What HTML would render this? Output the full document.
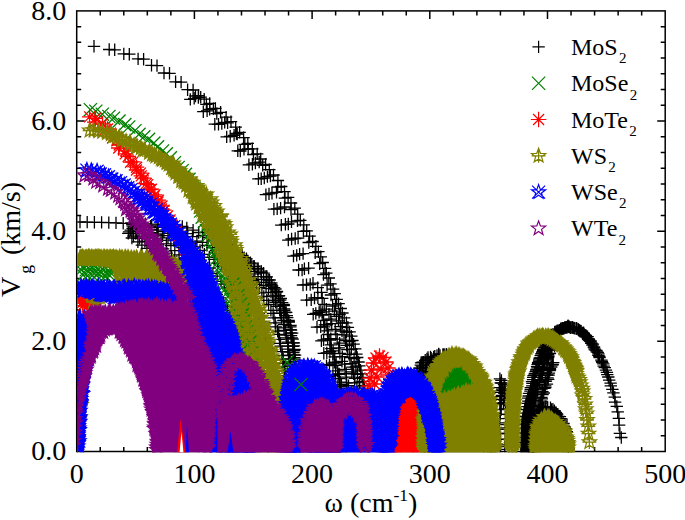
<!DOCTYPE html>
<html><head><meta charset="utf-8"><title>Vg</title>
<style>html,body{margin:0;padding:0;background:#fff}svg{display:block}text{font-family:"Liberation Serif",serif;fill:#000}</style></head><body>
<svg width="685" height="520" viewBox="0 0 685 520">
<rect width="685" height="520" fill="#fff"/>
<defs>
<marker id="mk" markerUnits="userSpaceOnUse" markerWidth="20" markerHeight="20" viewBox="-10 -10 20 20" refX="0" refY="0" overflow="visible"><g fill="none" stroke="#000000" stroke-width="1.3"><path d="M-6.2,0H6.2 M0,-6.2V6.2"/></g></marker>
<g id="sk" fill="none" stroke="#000000" stroke-width="1.2"><path d="M-6.2,0H6.2 M0,-6.2V6.2"/></g>
<marker id="mg" markerUnits="userSpaceOnUse" markerWidth="20" markerHeight="20" viewBox="-10 -10 20 20" refX="0" refY="0" overflow="visible"><g fill="none" stroke="#008000" stroke-width="1.3"><path d="M-6.6,-6.6 L6.6,6.6 M-6.6,6.6 L6.6,-6.6"/></g></marker>
<g id="sg" fill="none" stroke="#008000" stroke-width="1.2"><path d="M-6.6,-6.6 L6.6,6.6 M-6.6,6.6 L6.6,-6.6"/></g>
<marker id="mr" markerUnits="userSpaceOnUse" markerWidth="20" markerHeight="20" viewBox="-10 -10 20 20" refX="0" refY="0" overflow="visible"><g fill="none" stroke="#ff0000" stroke-width="1.3"><path d="M-7.7,0H7.7 M0,-7.7V7.7 M-5.5,-5.5 L5.5,5.5 M-5.5,5.5 L5.5,-5.5"/></g></marker>
<g id="sr" fill="none" stroke="#ff0000" stroke-width="1.2"><path d="M-7.7,0H7.7 M0,-7.7V7.7 M-5.5,-5.5 L5.5,5.5 M-5.5,5.5 L5.5,-5.5"/></g>
<marker id="mo" markerUnits="userSpaceOnUse" markerWidth="20" markerHeight="20" viewBox="-10 -10 20 20" refX="0" refY="0" overflow="visible"><g fill="none" stroke="#808000" stroke-width="1.3"><path d="M0.00,-7.50 L1.82,-2.51 L7.13,-2.32 L2.95,0.96 L4.41,6.07 L0.00,3.10 L-4.41,6.07 L-2.95,0.96 L-7.13,-2.32 L-1.82,-2.51Z M-7,0H7 M0,-7V7"/></g></marker>
<g id="so" fill="none" stroke="#808000" stroke-width="1.2"><path d="M0.00,-7.50 L1.82,-2.51 L7.13,-2.32 L2.95,0.96 L4.41,6.07 L0.00,3.10 L-4.41,6.07 L-2.95,0.96 L-7.13,-2.32 L-1.82,-2.51Z M-7,0H7 M0,-7V7"/></g>
<marker id="mb" markerUnits="userSpaceOnUse" markerWidth="20" markerHeight="20" viewBox="-10 -10 20 20" refX="0" refY="0" overflow="visible"><g fill="none" stroke="#0000ff" stroke-width="1.3"><path d="M0.00,-7.50 L1.82,-2.51 L7.13,-2.32 L2.95,0.96 L4.41,6.07 L0.00,3.10 L-4.41,6.07 L-2.95,0.96 L-7.13,-2.32 L-1.82,-2.51Z M-6.5,-6.5 L6.5,6.5 M-6.5,6.5 L6.5,-6.5"/></g></marker>
<g id="sb" fill="none" stroke="#0000ff" stroke-width="1.2"><path d="M0.00,-7.50 L1.82,-2.51 L7.13,-2.32 L2.95,0.96 L4.41,6.07 L0.00,3.10 L-4.41,6.07 L-2.95,0.96 L-7.13,-2.32 L-1.82,-2.51Z M-6.5,-6.5 L6.5,6.5 M-6.5,6.5 L6.5,-6.5"/></g>
<marker id="mp" markerUnits="userSpaceOnUse" markerWidth="20" markerHeight="20" viewBox="-10 -10 20 20" refX="0" refY="0" overflow="visible"><g fill="none" stroke="#800080" stroke-width="1.3"><path d="M0.00,-7.50 L1.82,-2.51 L7.13,-2.32 L2.95,0.96 L4.41,6.07 L0.00,3.10 L-4.41,6.07 L-2.95,0.96 L-7.13,-2.32 L-1.82,-2.51Z"/></g></marker>
<g id="sp" fill="none" stroke="#800080" stroke-width="1.2"><path d="M0.00,-7.50 L1.82,-2.51 L7.13,-2.32 L2.95,0.96 L4.41,6.07 L0.00,3.10 L-4.41,6.07 L-2.95,0.96 L-7.13,-2.32 L-1.82,-2.51Z"/></g>
<clipPath id="cp"><rect x="77.3" y="10.4" width="588.5" height="441.9"/></clipPath>
</defs>
<g stroke="#000" stroke-width="1.5" fill="none">
<rect x="76.7" y="10.9" width="588.5" height="440.6"/>
</g>
<path d="M100.24,451.50v-4.5 M100.24,10.90v4.5 M123.78,451.50v-4.5 M123.78,10.90v4.5 M147.32,451.50v-4.5 M147.32,10.90v4.5 M170.86,451.50v-4.5 M170.86,10.90v4.5 M194.40,451.50v-8 M194.40,10.90v8 M217.94,451.50v-4.5 M217.94,10.90v4.5 M241.48,451.50v-4.5 M241.48,10.90v4.5 M265.02,451.50v-4.5 M265.02,10.90v4.5 M288.56,451.50v-4.5 M288.56,10.90v4.5 M312.10,451.50v-8 M312.10,10.90v8 M335.64,451.50v-4.5 M335.64,10.90v4.5 M359.18,451.50v-4.5 M359.18,10.90v4.5 M382.72,451.50v-4.5 M382.72,10.90v4.5 M406.26,451.50v-4.5 M406.26,10.90v4.5 M429.80,451.50v-8 M429.80,10.90v8 M453.34,451.50v-4.5 M453.34,10.90v4.5 M476.88,451.50v-4.5 M476.88,10.90v4.5 M500.42,451.50v-4.5 M500.42,10.90v4.5 M523.96,451.50v-4.5 M523.96,10.90v4.5 M547.50,451.50v-8 M547.50,10.90v8 M571.04,451.50v-4.5 M571.04,10.90v4.5 M594.58,451.50v-4.5 M594.58,10.90v4.5 M618.12,451.50v-4.5 M618.12,10.90v4.5 M641.66,451.50v-4.5 M641.66,10.90v4.5 M76.70,435.76h4.5 M665.20,435.76h-4.5 M76.70,420.03h4.5 M665.20,420.03h-4.5 M76.70,404.29h4.5 M665.20,404.29h-4.5 M76.70,388.56h4.5 M665.20,388.56h-4.5 M76.70,372.82h4.5 M665.20,372.82h-4.5 M76.70,357.09h4.5 M665.20,357.09h-4.5 M76.70,341.35h8 M665.20,341.35h-8 M76.70,325.61h4.5 M665.20,325.61h-4.5 M76.70,309.88h4.5 M665.20,309.88h-4.5 M76.70,294.14h4.5 M665.20,294.14h-4.5 M76.70,278.41h4.5 M665.20,278.41h-4.5 M76.70,262.67h4.5 M665.20,262.67h-4.5 M76.70,246.94h4.5 M665.20,246.94h-4.5 M76.70,231.20h8 M665.20,231.20h-8 M76.70,215.46h4.5 M665.20,215.46h-4.5 M76.70,199.73h4.5 M665.20,199.73h-4.5 M76.70,183.99h4.5 M665.20,183.99h-4.5 M76.70,168.26h4.5 M665.20,168.26h-4.5 M76.70,152.52h4.5 M665.20,152.52h-4.5 M76.70,136.79h4.5 M665.20,136.79h-4.5 M76.70,121.05h8 M665.20,121.05h-8 M76.70,105.31h4.5 M665.20,105.31h-4.5 M76.70,89.58h4.5 M665.20,89.58h-4.5 M76.70,73.84h4.5 M665.20,73.84h-4.5 M76.70,58.11h4.5 M665.20,58.11h-4.5 M76.70,42.37h4.5 M665.20,42.37h-4.5 M76.70,26.64h4.5 M665.20,26.64h-4.5" stroke="#000" stroke-width="1.5" fill="none"/>
<g clip-path="url(#cp)">
<path d="M521.0,453.5 522.0,420.0 526.0,400.0 531.0,386.0 537.0,386.0 535.0,400.0 533.0,420.0 534.0,453.5Z" fill="#000000" stroke="#000000" stroke-width="2" stroke-linejoin="round"/>
<path d="M94,46.3 109.2,49.5 123.8,53.9 138.1,58.9 151.5,65.3 164,73 175.6,81.8 187.6,89.7 114.7,49.8 129.3,54.2 143.6,59.2 157,65.6 169.5,73.3 181.1,82.1 193.1,90 198.5,95.6 204.2,99.2 209.7,103.4 215.4,108.4 220.6,112.3 226.1,117.2 231,121.6 235.7,127.2 239.6,132.3 243.6,137.6 247.8,143.4 252.3,148.8 257.2,153.9 260.7,159 265.6,164.5 269.3,169.7 273.5,175 277.9,180.5 281.2,186.5 284.5,191.7 288.1,197.4 291,203 294.8,208.1 297.7,214.2 300.3,220.3 303.8,224.8 306.7,230.8 309.6,236.2 312.6,241.5 315.9,246.3 318.4,251.7 320.8,256.8 322.7,262.5 325.1,268.3 326.3,273.1 328.8,278 330.5,283.8 333.1,289.1 334.7,293.7 336.7,299.3 338.6,303.6 340.7,308.5 342.4,313 344.2,317.9 346.4,322.8 347.9,327.3 349.6,331.9 351.3,336.2 352.4,340.5 353.6,344.2 355.2,348.9 356.4,354.1 357.2,357.5 358.5,362 359.3,365.8 360.5,370.1 360.9,373.9 362.1,377.4 363,381.3 364,385.4 364.4,388.8 364.9,392.1 365.1,396.3 365.2,400 365.7,403.4 366.3,406.8 366.9,409.5 367.5,413.6 367.3,416.3 367.4,419.2 368,422.4 367.8,425.3 367.7,428.1 368.4,431.3 368.4,434.2 368,436.8 368.2,439.6 368.3,442.2 368,444.6 369,447.1 368.2,449.9 195.5,96 206.4,104.4 216.8,113.6 227.6,122.8 236.4,133.5 244.8,144.3 253.4,154.5 262.7,165.3 270.4,176.1 277.7,187 284.9,198.2 291,209.5 297.5,220.8 303.4,231.3 308.8,242.5 315.2,252.7 319.7,263.7 323.5,274.6 327.1,285.1 331,295 335.5,304.8 339.6,314.6 342.3,323 346.5,332.2 349.4,341.6 351.4,349.4 354.1,358.6 355.9,366.8 357.5,374.3 359.5,382.2 190.3,99.4 203.3,111.7 214.8,124.2 226.7,136.9 237.8,150.8 248.9,164.8 258.4,178.9 265.9,194.7 273.9,209.1 281.3,225.1 288.3,240.1 293.5,256.1 298.6,270 303,285 306.7,300.1 313.2,314.3 317,327.2 321.4,340.8 323.8,353.3 326.5,365.6 329.2,376.7 330.5,387.5 331.9,397.8 332.7,406.7 334.1,414.9 335.4,424.1 335.1,431.2 335.9,436.6 336.3,443.8 336.5,449 194.2,98.3 207.1,110.9 218.5,124.3 230.2,136.3 240.3,151 252.4,164.2 261.2,178.7 269,193.9 277.2,208.9 285.4,224.3 291.6,239 296.7,255.4 302.1,270.1 306.5,284.6 311.2,299.9 315.8,313.4 320.7,326.8 323.6,339.8 326.8,352.9 329.5,364.7 332.9,375.7 334,386.6 335.5,396.2 336.7,406.8 337.3,414.6 337.6,422.9 338.1,429.7 339.6,436.5 339.9,443.7 339.9,448.9 198.4,97.5 209.7,109.4 221.8,123.5 234.1,135.3 244,149.3 255.4,163 264.3,178 272,193.2 280.6,208.1 288.3,224 295.2,238.5 299.6,254.1 304.4,268.7 310.2,284.5 314.5,298 319.1,312.4 324.3,326.9 327.7,338.8 329.9,351.7 333,363.2 335.6,374.5 337.9,386.1 339.3,395.6 340.1,405.1 340.5,413.7 340.8,421.3 342.2,429.2 342.5,436.5 342.1,442 343.1,448 200.7,97.2 213.4,108.7 224.7,122.4 237.2,134.1 248.2,149 259.2,162.1 267.4,176.6 276.5,192.3 284.5,207 291.5,221.8 298.1,238.1 303.1,253.6 308.6,268.1 313,283.2 317.9,297.7 322.2,311.8 326.9,324.7 330.8,338.7 333.1,350.9 336.1,362.5 339.2,374 341.4,384.6 342.3,394.9 342.9,404.6 343.9,413.3 344.6,420.7 345.2,428.5 346.1,434.9 346,440.8 346.6,446.6 317.7,287.7 321.5,292.4 322.2,298.4 324.2,304.5 326.3,309.1 329,314.3 330.8,319.2 331.7,323.6 335.2,329.4 335.9,334.4 337.2,339.1 339.6,343.2 338.7,347.8 339.9,353.3 342.3,356.7 342,361.4 344.6,364.2 345,369.4 346.2,373.5 346.3,377.2 346.7,382.8 348.5,385.6 348.1,388.5 348.9,393.3 349.6,396.9 349.4,400.5 350.4,404.8 351.9,407.4 350.6,410.8 351,413.7 351.5,416.7 352.2,420.4 352.1,423.4 351.7,426 352.2,429.2 352.7,432.4 351.9,435.3 352,437.7 352.8,439.5 353.1,443.5 332.6,306.2 334.4,311.1 336.4,316.4 338.5,320.9 340.4,326.6 342,331 344,334.9 345.4,340.7 346.6,345.4 347.3,349.6 349.2,354.4 350,357.7 351.2,363.6 352.5,367.2 351.9,371.8 353.6,373.8 354.8,378.4 354.6,382.8 356.9,386.8 356.9,391.9 358.2,394.5 357.6,397.5 357.7,402.1 358.7,405.4 359.4,408.4 359.1,412.7 359.7,416.2 359.8,418.7 360,421.5 358.9,425.5 360.1,428.5 359.2,431.1 360,433.8 359.2,437 361.2,440.3 360.4,442.8 361.2,443.9 360.8,448.6 320.1,310.6 322.2,315 323.6,320.3 324.9,324.8 327.4,330.9 328.3,334.5 329.8,340.2 330.9,344.9 331.4,348.6 333,353.7 334.7,356.8 334.6,362.3 335.7,365.4 337.7,370.9 338.2,374.4 339.4,378.6 340.2,382.2 339.7,386.7 340.4,390.9 341.5,393.7 341.8,397.7 342.7,401.2 342.3,405.8 344.3,409.8 343.3,412.2 344.4,415.3 343.2,418.8 344.3,421.4 343.3,424.2 344.9,427.7 344.6,431.3 345.2,434 345.3,436.6 345,439.3 346,442.7 345,445.3 345.4,448.6 80,222 87.2,222.1 94.4,222.3 101.6,222.4 108.8,222.6 116,222.9 123.2,223.3 131.2,223.2 138.3,225 145.4,223.8 151.6,225.1 157.5,224.1 164.4,224.9 170.3,224.8 177,226.4 182.3,226.5 186.8,227.9 193.1,230.2 198.7,232.5 202.7,235.5 208.4,237.5 213.6,239.8 217.8,243 224,245.5 229.6,247.6 232.4,249.9 237.2,253 242.2,255.3 246.5,258.8 250.4,262.8 254.1,266.1 258,269 261.4,272.4 266.7,276.8 269.6,280 271.3,284.4 274.1,287.7 276.4,292 278.5,296 280.2,300.1 283.7,304.5 284.2,309 286.2,312.4 287.2,317.7 288.7,321.5 290.5,325.3 290.6,329.6 292.1,333.1 291.7,338 293,342.8 293.9,345.8 294.1,350.5 294,354.9 294.3,357.6 295.1,361.8 295.3,366.7 296.2,371.2 296.3,373.4 296.4,377.5 296.5,382 297.1,384.5 298.1,389.1 298.2,392.8 298.6,396.4 299.1,400.1 298.9,403.7 298.1,406.9 298.9,410.5 298.5,414.6 299.3,416.6 298.5,420.4 299.5,423.5 299.6,426.8 300,430 299.8,434.1 301.1,436.3 299.7,439.5 300.4,442.4 299.7,446.1 299.5,448.7 132,223.2 137.9,224.9 145.1,225.8 150.5,226.3 158,227.4 163.7,227.4 170.2,228.5 175.2,229.4 182.3,231.5 187.5,233.7 192.5,236.6 196.9,241.1 202.5,242.3 207,245.4 212.6,247.7 215.9,250.7 221.4,253.8 226.6,256.9 230.6,259.4 234.8,264.3 238.7,266.9 242.2,271.2 245.5,273.6 250,277.3 253.2,280.6 256.5,284.3 259.4,287.7 261.9,292.8 263.8,296.5 266.8,300.3 268.6,304.5 270.9,310.4 273.1,313.4 274,317.8 275.2,322.8 275.8,326.8 277.6,331.2 278.7,334.4 279.5,339.3 280.2,343.3 280.6,346.2 281.9,351.7 282.2,355.4 283.2,359.2 282.9,363.3 284.3,366.6 284.8,370.9 284.1,375.7 285.1,378.2 285.3,383.1 286.5,386.2 286.5,390.4 286.3,393.9 287,397.1 287,400.9 287.6,404.1 287.6,408.5 288.1,411.8 288.8,415.1 289.5,417.8 288.9,421.4 289.6,425.7 287.8,427.7 289.3,431.8 289.4,434.6 289.4,438.1 289.2,441.4 288.2,444.3 288.9,447.5 132.3,224.7 138.8,226.5 144.5,227.4 151.1,229.5 157.8,230.2 163.9,231.6 169.2,233.4 175.6,234.7 180.2,237.5 185.3,240.4 190.6,243.9 195.2,246.8 200,250.4 204.4,254.3 209.3,257.3 214.1,259.3 217.7,263.2 222.1,266.4 225.8,269.1 229.6,272.6 233.5,277 236.7,280.8 240.8,283.7 243.1,287.7 245.9,291.7 250.2,295.9 252.1,300 254.1,304.7 256,309.4 258.8,313.5 259.7,317.2 261.6,321.8 263.2,326.2 265,329.4 265.2,335.1 266.2,338.5 267.2,342.4 268.2,348.5 269.5,350.8 269.2,355.3 270.9,359.1 270.7,364 272.1,367.3 271.7,370.6 272.4,374.2 273.7,378.8 274,383.9 274.9,386.1 275.2,391 274.8,393.6 275.6,396.9 276.7,400.1 275.8,404.7 276.5,408.4 277.1,411.7 277.7,414.2 277.4,418.3 277.7,422.1 277.4,425 278.4,428.8 277.8,432.9 279.5,434.3 278.6,439.5 279,441.5 278.6,444.2 278.7,447.3 132.7,226.2 138,228.5 144.4,230.3 150.5,232.7 156.8,234 162.6,235.7 168,237.8 173.8,240.2 178.9,244.2 182.5,247.6 187.1,251.4 191.7,255.3 196.2,257 200.6,260.6 205.2,265.6 209.7,268 212.9,273.3 217.1,276.2 221,281.3 224.6,284 227.6,288 230.5,291 233.9,295 236.5,299.7 240,303.5 241,308.1 243.4,313 244.9,316.4 246.1,320.6 248.8,325.4 249.6,329.4 251.6,334.1 252.6,338 253.1,341.7 255.9,345.4 255.8,350.8 256.7,354.4 257.7,358.9 258.5,362 259.2,366.5 259.7,371 260.9,375.2 261,379.1 262.5,383 263.2,386.2 262.9,390.4 262.9,393.8 263.8,397.2 263.7,400.5 265,405 265.9,408 265.6,411.1 266.3,414.9 266.6,419.3 266.6,421 266.5,424.4 266.5,429.1 267.5,430.9 267.9,435.5 267.6,437.7 267.8,441.3 268.4,444.9 268.8,448 132.6,228.3 136.6,231.4 143.5,233.3 149.8,235.2 154.8,238.2 161.1,240.3 166.4,243.8 170.9,245.6 174.8,250.6 179,254.8 184.4,258.3 187.5,263.3 192,265.4 196.3,270.1 199.7,274.1 203.6,277.2 207.4,282.1 210.3,285.9 213.8,291.3 216.8,294.5 220.2,297.8 223.4,302.4 226.1,306.4 227.5,310.3 230.1,315.2 232.6,319.4 234.3,324.3 235.6,327.1 236.5,331.4 239.4,335.9 240.7,340.9 242.2,345.3 242.5,348.9 243.6,353.2 244.3,357.3 246.3,360.5 246.6,364.9 247.4,369.8 248.1,373.7 248.1,377.8 249.3,381.4 250.4,383.6 250.6,388.8 252.4,392.5 252.4,395.4 253.6,400.6 253.4,403.2 253.1,407.3 255.7,410.8 255.4,414.1 254.7,418 254.9,420.6 256,424.5 256.4,427.6 256.1,430 256.7,433.5 256.3,436.5 256.9,439.3 256.7,442.5 257.6,446.6 258.7,448.7 130.7,230.1 135.8,233.6 142.6,236.1 147,237.9 153.3,241.6 157.4,244.4 163.1,248.9 166.8,253.1 171.4,256.2 175,261.5 178.8,264.4 182.8,269.9 187.4,272.6 191.6,277.3 194.2,282.6 197.5,286.3 199.6,290.8 202.8,293.5 207.5,299.3 209.9,302.7 212.3,308.2 214.7,311.8 215.5,316.1 217.1,319.7 220.2,324.4 221.8,329.1 224.6,334.1 225.2,338.4 226.4,341.8 228.7,345.6 229.4,349.7 230.8,355.4 231.6,358.8 232.6,362.2 233.4,367.5 236.2,371 235.6,375.1 236.7,379 237.8,382.6 238.8,386 239.1,389.2 239.8,393.1 240.7,397 241.5,401.3 241.4,404.3 242.2,408.6 244.1,412.2 243.6,416 243.4,419.4 244.3,420.6 246.3,426.2 244.8,428.8 245.6,432 245.3,434.8 246.5,438.5 247.2,441.5 248,444.2 247.1,446.7 129.1,231.9 133.5,236.2 139.5,238.4 144.9,241.5 150,245.6 155,249.1 158.4,253.9 162.6,258.8 167.5,263.3 169.8,267.3 172.9,271.4 176.2,276.2 179.8,281.2 183,285.1 185.6,290.5 189.4,295 192.3,299.3 194.5,303.3 198.5,306.7 200.2,312.6 202.1,316.5 204.6,320.3 206.2,324.5 207.5,329 209.6,333.8 211.6,337.3 214,342.9 214.9,346.3 216,351 217.6,354 219.1,360.5 219,363.5 221.4,367 223,370.5 223.5,375.8 224.3,378.7 225.4,382.6 227.1,386.1 227.7,389.7 228.5,394 227.7,397.7 229.3,401.1 231.4,404.4 230.7,409.3 232,412.8 232.7,415 233,419.6 234,422.3 234,425.6 234.1,430 234.8,431.7 235,435.8 235.9,438.6 235.5,441.8 235.3,444.2 236.8,447.7 128.3,233.3 131.9,238 137.9,241.8 141.9,245.1 146.9,248.4 150.6,253.4 153.1,258.2 157.3,263 159.8,267.9 163.7,273 166.1,278 169,282.3 173.2,286.8 175,292.4 177.7,296.3 180.5,301.6 181.7,305.2 184.6,309.7 186.9,314.4 189.5,318.9 191.4,324 192.9,328.3 196,332.8 196.6,337 198.1,341.5 200.7,345.2 201.7,350.4 203.1,354.1 204.3,357.7 206,363.3 207.5,366 208.7,370.2 210.6,374.3 212.5,378.2 213.3,382.1 214,385.1 214.7,389.5 215.7,392.2 217.2,396.8 217.5,400.5 218.5,404.4 218.9,407.3 220.4,411.3 220.8,414.4 221.3,418.1 222.9,421 223.6,425.3 223.1,428.6 223.1,430.6 223.6,434.5 224.5,437.6 225.1,440 225.7,443.5 225.4,447 221.4,243.3 225.5,246.1 230.2,248.5 233.2,250.1 236.9,253.1 239.9,256 244.1,257.6 247.8,261.2 251,263.9 254.1,266.6 257.9,268.5 261.2,271.1 263.6,273.1 266.2,276.8 268.2,279.9 271.3,282.9 272.1,286 275.4,289 277,291.5 279,295.7 280.8,298.5 282.2,302.6 283.7,305.7 284.3,310.6 285.4,312.5 286.8,315.7 288.6,320.5 288.7,322.1 290.4,326.8 291,330.2 290.7,332.9 291,335.6 292.7,339.2 293.8,342.8 292.8,346.4 294.5,349.4 293.4,352.5 295.1,355.2 294.4,359.1 295.2,361.1 295.3,364.3 295.9,367.8 296.6,371.1 295.6,373.9 297.1,376.9 297.4,379.3 296.7,382.9 296.9,384.2 298.1,387.7 297.7,390.2 297.4,393.1 298.1,396.6 297.3,399.5 298,401.3 299.1,404.5 298.1,408.1 298.6,409.9 299.2,413 299,415.4 298.9,418 299,419.8 300.4,422.6 299.6,426.1 299.8,427 300,429.2 300.3,432.8 299.5,434.3 299.9,436.9 299.4,439.5 298.9,441.3 299.8,443.7 300.1,445.5 300.3,448.2 233.7,256.3 236.9,260 240.5,262.6 245,265.8 248.6,267.9 250.7,271.3 254.8,273.9 258,276.6 261.4,279.3 263.8,282.4 266.1,285.7 268.6,288.7 271,292.4 272.6,296 273.8,300.5 275.5,302.4 276.9,306.4 279.7,310.3 280.5,313.2 281.5,317.6 283.4,320.5 283.9,324.5 284,327.9 285.2,330.3 286.3,335.2 286.4,337.8 287.9,342.1 288.1,346.1 287.9,349.2 288.5,352.2 289,355.5 290,358.9 289.8,362 290.4,365 290.3,368.6 290.6,371.8 290.9,376.1 292.2,378.4 291.7,382.4 292.2,384.4 292.5,387.6 293.3,390.5 293.9,393.1 293.4,396 294.2,399.3 293.4,402.8 294.3,404.7 293.6,407.4 294,410.9 293.9,413.4 293.9,416.1 294.5,420 293.4,421.9 294.2,424.9 294,427.3 294.1,430.4 294.7,432.6 294.9,435.1 294,438.1 295,440.3 295.4,443.5 294.4,445 295.7,448.6 294.6,449.7 294.7,452.5 408.7,410 409.1,407.5 411,406.5 410.4,406 411.3,403.8 410.9,401.9 412.4,401.6 410.4,399.6 412.1,398.5 413.2,397.7 411.5,395.1 411.2,393.9 412.6,394.3 412.9,389 412.6,389.3 412.4,387.1 413.5,386.6 414,384.1 415.1,383 414.5,380.8 414.6,381 414.4,379 416.7,377.3 416.8,375.3 418.1,375.7 417.7,371.9 417.2,372.7 419.9,370.8 420.1,368.7 419.6,367.8 420.8,365.2 422,366.2 421.1,362.8 423.3,362.2 422.1,362.3 425.2,360.3 428,359.8 426.9,358.9 428,357.5 430.5,357 431.2,358.2 433.7,357 434.8,356.3 437,355.5 438.8,354.5 438.6,353.9 440,355.4 443,354.5 443.3,354.9 444.2,354.5 446.3,354.3 447.8,356 448.7,355.5 449.5,358.2 451,358.3 454,357.1 454.1,358.6 457.8,357.5 457.6,359.6 459.5,360.9 460.2,360.4 461,362.2 462.8,359.4 464.6,361.7 415.5,409.7 414.3,408.5 416,406 415.9,404.5 415.2,402.2 415.9,399.4 417.3,397.1 417.6,397 417.1,393.7 417.4,392.7 418.6,390.6 419.3,388 419.2,385.3 420.1,384.7 419.8,383.6 421.3,378.5 421.4,377.7 423.1,379.1 422.7,375.3 423.8,373.8 425.6,372.8 425.4,371.4 426.6,368.8 429.6,367.6 429.3,365 431.2,364.2 434.1,362 435.3,362.5 437.2,361.6 439.8,360.9 441.2,360.3 443.8,357.9 445.4,358.9 568.9,326.7 569,326.9 570.1,327.4 570.6,327.8 571.9,327.4 572.2,327.3 572.7,327.6 573.8,327.9 574,328.1 574.9,328.4 576.5,328.8 576.4,328.3 576.7,328.5 578.1,329.2 578.5,329.6 579.1,330.6 579.5,330.4 580.1,331.2 580.6,330.9 581.1,331.3 582.4,333.1 582.5,333 583.5,332.8 583.9,333.7 584.3,335 584.5,335 585.8,335.3 586.3,336.4 586.9,336.9 587.6,336.7 588.4,338.9 588.8,339.2 588.5,339.6 589.2,340.2 590.4,340.9 590.5,341.3 591.1,342.9 591.4,343.4 592.9,344.2 592.4,345.2 593.8,347.2 594.1,347.2 594.5,348.8 595,349.9 596.4,350.5 596.8,351.9 597.8,352.4 598.4,353.9 598.4,355.3 599.3,356.3 599.6,357.7 601.4,360.1 601.9,361.4 602.3,362.6 603.3,363.9 603.7,366.2 604.8,367.7 605.9,370.1 606.9,372.3 607.3,374.7 608.3,377 609.2,380.2 610.6,383.2 610.8,385.8 612.4,389.3 613.4,392.8 614.8,397.2 615.1,402.1 616.8,406.4 617.7,411.9 618.9,418.3 619.1,425.2 619.9,433.4 621.3,437.5 569.1,327 568.1,325.8 567.6,326.5 567,327.6 566.3,327.2 565.5,327.5 564.7,327.5 563.9,328.3 563.5,328.4 562.7,328.3 562.1,328.6 561.8,328.8 560.6,328.7 560.8,329.2 559.5,330.1 559.3,330.1 558.2,331.2 557.9,330.9 557.1,330.7 556.1,331.7 556.1,331.9 555,332 554.7,332.5 554.6,333.9 554.7,334.3 553,334.2 551.5,334.9 552.1,336 551.9,336.4 551.2,337 551.2,337.1 550,337.6 550.3,339.2 549.5,339 548.9,340 548.4,340.7 548.1,341.3 547.8,342.3 546.9,342.9 546.5,344 546.1,344.5 545.6,344.7 545.7,345.7 545.2,347 544,347.4 544,348.2 543.3,349.7 543.2,350.4 542.8,351.3 542.2,352.1 542.3,353.1 541.5,353.6 541.3,355.1 540.7,355.7 540.6,357.9 539.9,358.2 539.7,358.3 539.2,360 539.3,361.3 538.1,362.5 538.1,363.6 537.6,364.6 537.1,366.6 537.5,367.9 536.4,369.4 536.2,370.9 535.7,371.7 534.9,373.3 534.5,374.8 533.6,375.6 533.2,377.3 533,379.7 532,381.7 532.5,383.4 532.3,385.9 530.8,387.6 530.8,389.4 530.4,391.2 529.3,393.4 528.7,396 528,398.2 528.3,401.1 527.8,403.3 526.9,406.6 526.7,409.7 526.4,413.1 525.5,416.5 525.2,420 524.9,424.2 524.1,428.2 523.8,433 523.7,437.5 523.4,442.6 556.8,342 554,343.8 554.7,343.2 553.8,344.4 554.5,346.3 551.7,347.3 551.7,349.2 550.7,347.8 550.8,350 549.9,350.1 549.9,353.5 547.9,354.4 548.2,356.3 548.2,356 548.1,357.6 546.5,359 546,358.8 547,360.9 544.8,362.7 543.8,363 543.9,364.9 543.8,367.3 543,368.4 543.1,368.9 542.4,370.5 542.4,372.9 541.3,373.4 540.8,375.3 540.6,377.3 539.1,379.6 539.5,380.4 539.3,382.3 537.9,384.4 537.2,385.9 537.1,389 537.7,389.8 537.2,391.9 536,394.5 535.4,397.5 534.8,397.5 534.9,400.1 533.5,400.9 533.9,405.5 533.4,408 533.5,409.9 532.7,412 531.4,415.7 531.4,417 530.9,420.4 529.7,423.7 529.6,425.4 528.8,430.5 528.2,432.7 529.2,436.3 527.8,439.1 528.4,443.3 527.8,445.7 528.7,450.9 553.2,362.6 552.6,364.4 552.3,365 551.2,367 549.9,368.7 550,369.7 549.7,370.6 548.9,373.2 548.6,375.1 547.3,375 547.6,377.8 548.2,379.4 545.9,381.1 545.4,381.4 546.9,384.1 545.2,385.9 545.3,387.5 544.4,388.4 542.4,391.7 543.7,393 542.5,394.7 541.4,397.5 541.8,398.8 541.1,401.1 540.6,403 539.1,405 540.6,406.5 538.7,409.6 539,411.8 537,414.1 536.9,415.7 537.5,418.5 537.3,423.2 536.8,424.4 535.3,426.3 534.7,429.2 534.3,432 534.5,434.8 533.4,437.7 534.2,441.8 534.2,445.7 533.2,448.9 532.4,453.5 533.8,455.7 532.3,459.9 532.1,449.6 533.4,448.5 532.8,447.5 532.6,445.6 532.9,443.6 533.5,442 534.4,440.7 534.6,439 534,437.4 533.2,436.6 534.4,434.4 534.8,433.2 534.5,432.3 534.9,429.7 535.7,429.4 534.8,427.1 534.4,425.5 535.8,424.5 535.2,422.9 536.9,421.5 536.2,420.9 537.1,418.8 536.9,416.6 537.1,415.7 538.2,414.7 539.2,413.3 539.8,411.4 539.5,410.4 541.1,409.2 542.5,407.9 543.3,407.6 545.3,406.8 547,407 547.7,407.5 550.5,407.7 551.4,409.5 552.9,409.2 554.4,410.6 554.4,411.3 555.9,412.5 556.6,414.2 557.2,414.2 558.9,416.3 559.9,416.6 560.6,418.7 561.7,419.1 561.7,420.9 561.5,422 563.5,423.5 563.2,425.5 564.7,427 564.3,427.8 565.7,429 565.3,431.1 566.8,431.6 565.1,432.9 566.2,435 567.4,436.5 567,438.1 567.2,439.5 567.7,442.3 568.6,442 568,443.7 567.8,445 568.4,447.3 568.7,448 568.3,449.3 499.9,378.8 501.4,380.4 501.6,383.2 500.7,382.9 499.6,387.7 502.3,389.2 501.8,390.5 500.6,392.3 501.9,395.3 500.6,396.6 501.3,399.3 499.8,402.7 500.6,404 501.2,409.5 500.3,414.3 499.8,418.7 499.2,424.6 499.3,429.3 499.8,433.5 500,439.1 500.4,444.9 500.2,449.4 504,384.6 504.7,386.1 504.6,388.9 504.9,391.8 504.4,393.4 505.5,395.1 504.5,400.2 503.4,403.6 505.4,409 506.6,414.4 505.9,422.9 505.5,427.9 505.2,433.5 505.5,439.3 504.8,446.6 464.1,408.7 465.3,412.9 466.2,419.3 464.2,424 464.9,428.5 465.8,433.4 466.6,438.4 466.8,444.0" fill="none" stroke="none" marker-start="url(#mk)" marker-mid="url(#mk)" marker-end="url(#mk)"/>
<path d="M90.4,109.7 95.8,111.2 102.3,114.2 108.9,116.5 113.5,118.2 119,121.1 124.8,124.6 128.7,127 134.9,130.7 139,134.3 143.8,136.8 148.5,139.3 153.8,143.1 157.5,146.9 162.5,151 166.3,153.9 170.3,157.9 174.4,162.7 178.1,167.5 182.1,170.7 185.4,174.4 189,179.3 190.8,183.7 194.3,188.2 196.4,191.9 197.3,198.3 199.3,201.6 200.6,207.1 200.7,211 202.2,217.1 204.4,221.6 206.1,226.7 206.5,230.9 208.7,235 210.4,240.1 212.1,244 213.5,250.2 214.7,252.8 216.9,258.3 218.5,261.8 220.2,266.3 220.7,270.7 222.6,275.6 224.4,279.4 226,283.7 227.4,287.1 227.5,292.3 229,295.9 231,299.9 232.2,304.8 232.5,308.6 236.1,312.1 236.2,316.4 238.3,319.4 238.6,323.8 240,327.9 241.2,331.4 242,335.1 242.7,339.2 244,342.5 245.8,346.7 245.3,351.1 246.4,354.5 247.6,358.1 248.4,361.4 249,366.3 248.5,369 250.5,372 250.2,377.2 251.3,380.8 252.3,383.3 252.7,387.1 253.6,390.5 253.4,393.8 254.4,397.6 253.5,400.3 254.5,403.7 254.4,406.9 254.8,410.9 255.7,414 256.5,417.2 257.3,421 256.1,423.5 254.7,426.9 256.4,431.1 255.8,434.3 256.5,436.8 255.5,439.6 256.7,443 257,445.1 257.5,449.1 80.2,264.9 84.9,264.5 88.5,264.1 94,265.1 98,264.8 102.5,265.2 106.8,265.3 112.3,266.2 115.7,266.2 81.2,270.1 86.3,269.8 90.5,269.8 94.6,270.7 99.6,271.3 103.7,270.5 108.8,270.9 112.4,271 83,275.2 87.5,275.6 92.4,275.4 96.5,275.4 101.2,276 105.5,276.1 109.8,275.6 431.4,402.5 432.4,401 432.4,398.5 433.5,396.6 432.7,394 433.5,391.5 434.2,390.8 434.1,389.4 434.7,386.2 435.3,384 436.4,382.5 437.9,381 438,378.7 437.8,377 439.2,375.9 440.9,374.8 442.8,372.8 443.9,371.1 445.8,370.4 446.8,369.2 450.6,368.2 450.8,367.2 452.1,367.9 455,367.2 458,368.5 458.4,367.8 461.3,367.5 463.2,367.5 465.8,368.4 466.7,369.8 468.7,370.6 469.8,372.7 471.3,373 471.9,374.3 473,376.1 474.9,376.5 475.8,379.8 476.8,380.7 434.3,400.2 433.2,398 434.4,397.3 435.6,394.9 434.8,392.5 435.6,390.8 435.8,389.1 437.9,387.1 438.6,384.8 438.3,383.2 440.9,382.4 441,380.9 442.2,379.4 444.1,376.8 445.8,375.3 446.3,373.7 448.8,373.6 450.5,372.7 453.3,372.1 454,372.7 457.3,372 457.4,371.4 460.8,371.9 463.3,371.1 464.8,371.9 467,373.1 468.5,373.8 468.7,374.7 470.7,376 473.3,378.7 474.1,378.8 475.1,380.5 436.1,399.4 436.2,397.1 435.4,395 436.8,393.9 438.4,391.4 439,391 439.7,387.8 441.1,386.2 442.2,385.3 444.7,382.3 445,382 446.4,380.5 447.9,380.1 449.6,378.4 451.7,377.8 453.5,377.8 455.6,376.9 457.5,376 459.1,375.9 461.7,376.1 462.9,376.7 465.8,376 468.4,377.8 469.1,379.3 471,379.3 473.9,380 474.2,382.4 436.4,397.9 438.3,397.7 438.7,394.5 440.8,393 440.9,391.6 443,390.1 444.9,389 445.9,387.1 446.5,385.6 448.9,384.2 450.6,383 453.3,384 454.1,382.4 456.1,382.4 458.5,381.4 460.1,381.3 461.6,381.5 463.8,381.4 466.3,382 468.2,382.3 469.6,382.5 471.9,382.8 474,383.8 437.9,397.1 439.7,396.2 440.9,393.6 442.7,393.9 444.5,391.9 446.6,389.6 448.4,390 450.3,389.2 452,387.9 453.9,387.5 457.2,387 458.2,386 459.6,386.9 461.3,385.1 463.9,385.1 467.1,383.7 468.2,385.3 469.2,384.2 472.2,385.3 473.3,383.1 287,362 290,365.0" fill="none" stroke="none" marker-start="url(#mg)" marker-mid="url(#mg)" marker-end="url(#mg)"/>
<path d="M394.0,453.5 394.0,420.0 397.0,406.0 402.0,399.0 408.0,398.0 413.0,402.0 416.0,412.0 418.0,453.5Z" fill="#ff0000" stroke="#ff0000" stroke-width="3" stroke-linejoin="round"/>
<path d="M89.6,116.9 95.4,118.3 102.5,123.8 107.5,129 111.3,134.2 116.9,140.9 119.2,145 125.9,150.8 128.2,156.4 133,161.9 136.6,167.2 140.4,173.1 143.8,178.2 147.7,184.6 151.4,189.2 154.9,194.8 158.4,200.2 162,206 164,210.2 167.6,216 170,219.9 172.1,226 176.7,231.2 178.4,236.3 181.5,240.9 184.5,245.2 186.1,249.5 187.9,254.8 190.6,261 192.6,266.2 193.3,271.2 195,276.3 196.9,280.2 198.1,285.8 199.2,291.1 201.7,295.1 201.6,298.8 202.8,304.6 202.6,309.7 205.2,313.7 205.5,318.1 207.1,322.3 207.3,328.8 208.3,332.4 208.9,335.8 209.7,341 209.7,345.3 211.7,349.9 210.5,352.9 211,358.3 212.8,362.2 212.4,365.1 213.4,369.8 213.3,373.8 214.6,377.8 214,380.2 214.8,385.4 215.1,388.8 215.1,393.2 215.8,396.6 215.4,399.8 216.3,403.1 215.7,407.1 217.3,410.9 217.7,414.2 216.8,416.9 216.8,422 217.5,424.9 217.8,427.8 217.4,431.1 218.1,434.5 218,437.5 217.4,440.4 217.3,444.3 216.7,446.7 219.4,449.6 94.7,122.1 105.4,129.4 112.5,137.9 118.7,148 125.2,153.9 130.6,162.2 136.5,170 141.3,175.9 146.2,183.6 150,189.5 153.9,196.4 158,202.1 161.5,209 164,214.3 79.6,299 82.9,298.6 87.5,299.2 92.9,300 96.4,301.4 82.4,302.8 86.1,302.1 89.2,304 93.6,304.6 83,305.6 87.3,306.8 91.3,307.4 95.3,308.7 178,432 181,440 180,447 183,428 176,445 373,399 369,386 370,378 371.5,370 373.5,363 376,358 379.5,356 383,357.5 386,362 388,368 389,375 377,377 381,369 374.5,384 395.6,450.7 395.5,447.3 395.4,442.4 395.5,440.8 395.1,437.8 394.2,434.7 395.4,432.9 394.6,428.5 395.9,425.5 396.2,423 394.5,420.6 396.2,416.1 396.7,413.9 397.4,410.9 396.6,408.6 399.1,406.8 400.9,403.2 401.6,400.2 404.4,399.5 407.5,398.5 410.5,401 414,403.6 413.5,406.1 414,408.3 414.3,412.4 416.2,413.8 416.1,418.1 416.6,420.8 415.9,423.1 416.6,427.1 416.1,428.8 417.4,432 417.5,435.7 417.4,439.6 417.4,442 416.4,444.1 417.4,448.4" fill="none" stroke="none" marker-start="url(#mr)" marker-mid="url(#mr)" marker-end="url(#mr)"/>
<path d="M80.0,257.5 82.4,257.5 84.8,257.5 87.3,257.5 89.7,257.5 92.1,257.5 94.5,257.5 96.9,257.5 99.4,257.5 101.8,257.5 104.2,257.5 106.6,257.5 109.1,257.5 111.5,257.5 113.9,257.5 116.3,257.5 118.7,257.5 121.2,257.5 123.6,257.5 126.0,257.5 128.4,257.6 130.8,257.7 133.3,257.7 135.7,257.8 138.1,257.9 140.5,258.0 142.9,258.1 145.4,258.2 147.8,258.4 150.2,258.5 152.6,258.7 155.0,259.0 157.4,259.3 159.8,259.7 162.2,260.1 164.5,260.6 166.9,261.2 169.2,261.8 171.6,262.5 173.8,263.5 175.9,264.6 178.0,265.8 180.0,267.2 182.0,268.6 183.9,270.1 185.7,271.6 187.5,273.3 189.2,275.0 190.8,276.8 192.3,278.7 193.8,280.6 195.3,282.6 196.7,284.5 198.1,286.5 199.4,288.5 200.7,290.6 202.0,292.6 203.2,294.7 204.4,296.8 205.5,299.0 206.6,301.2 207.6,303.4 208.6,305.6 209.5,307.8 210.5,310.0 211.3,312.3 212.2,314.5 213.0,316.8 213.7,319.1 214.4,321.5 215.1,323.8 215.8,326.1 216.4,328.4 217.0,330.8 217.6,333.1 218.2,335.5 218.7,337.9 219.2,340.2 219.6,342.6 220.0,345.0 132.0,345.0 131.9,343.5 131.8,342.0 131.7,340.4 131.6,338.9 131.4,337.4 131.3,335.9 131.1,334.4 131.0,332.8 130.8,331.3 130.7,329.8 130.5,328.3 130.3,326.8 130.1,325.3 129.9,323.7 129.7,322.2 129.5,320.7 129.3,319.2 129.1,317.7 128.9,316.2 128.7,314.7 128.5,313.2 128.2,311.7 128.0,310.1 127.8,308.6 127.5,307.1 127.3,305.6 127.0,304.1 126.7,302.6 126.4,301.1 126.1,299.7 125.8,298.2 125.4,296.7 125.1,295.2 124.8,293.7 124.5,292.2 124.1,290.7 123.8,289.2 123.5,287.7 123.2,286.2 123.0,284.7 122.7,283.2 122.4,281.7 122.1,280.2 121.8,278.7 121.4,277.2 121.1,275.8 120.7,274.3 120.3,272.8 119.8,271.4 119.3,269.9 118.8,268.5 118.2,267.1 117.5,265.7 116.7,264.4 115.8,263.2 114.6,262.3 113.2,261.6 111.8,261.0 110.4,260.5 108.9,260.1 107.4,259.8 105.9,259.6 104.4,259.5 102.9,259.3 101.3,259.2 99.8,259.1 98.3,259.0 96.8,258.9 95.2,258.9 93.7,258.8 92.2,258.7 90.7,258.7 89.2,258.6 87.6,258.6 86.1,258.6 84.6,258.5 83.1,258.5 81.5,258.5 80.0,258.5Z" fill="#808000" stroke="#808000" stroke-width="1" stroke-linejoin="round"/>
<path d="M422.0,453.5 424.0,415.0 428.0,399.0 436.0,397.0 455.0,392.0 475.0,386.0 485.0,388.0 490.0,400.0 494.5,425.0 496.0,453.5Z" fill="#808000" stroke="#808000" stroke-width="3" stroke-linejoin="round"/>
<path d="M531.0,453.5 533.0,430.0 538.0,419.0 545.0,415.5 552.0,418.0 560.0,425.0 567.0,435.0 572.0,443.0 574.0,453.5Z" fill="#808000" stroke="#808000" stroke-width="3" stroke-linejoin="round"/>
<path d="M89.7,130.5 93.7,130.2 98.5,131.2 102.3,131.7 107.1,133 111,134.1 115.4,135.7 119.3,137.1 122.5,140.2 126.1,141.5 130,142.1 134.1,145.3 137.1,147.1 140.9,148.1 144.8,150 149.5,151.3 152.2,154.3 154.2,154.8 158.8,157.2 162,159.8 164.9,160.5 166.9,163 112.7,136.7 121.7,139.3 130.3,144.2 136.9,146.3 142.9,149.9 149.2,152.6 155.5,156.5 160.9,158.9 166.5,162.2 168.8,164.4 170.9,163.9 173.7,165.7 176.4,169.4 179.7,171.1 182.4,174.9 185.7,175.6 189.8,179.1 192.7,182.7 196.6,185.8 198,187.4 200.2,191.8 204.4,194.4 206.3,194.3 210.5,199.2 211.6,202.3 214.2,205.9 214.1,209.6 216.9,211.5 220.8,216.1 220.7,216.9 223,222.3 224.5,224 225.6,227.2 228.1,232.4 230.2,234.3 230.8,238.8 231.3,241.6 234.9,245.2 235.1,248 235.8,250 237.2,255.8 240.6,259 240.7,261.1 240.9,264.1 243.3,266.7 244.8,269.6 243.6,272.7 244.9,275.5 248.7,279.7 249.1,284 251.2,285.5 252.4,289.4 252.4,292.4 252.3,294.3 254.6,298.6 255.5,300.9 257.7,305.3 258.5,308.1 258.4,309.7 259.9,312.7 259.9,317.4 261,318 262.4,323.5 262.9,325.8 263.2,327.2 263.8,330.4 267,332.3 267.7,335.2 267,339.6 268.7,341.9 267.5,344.7 269,349.4 270.6,350 270.5,352.2 271.1,356.2 272.7,358.5 272.9,360.3 275.2,362.6 272.9,366.5 274,368.5 276.2,370.8 276.6,373.6 277.6,378.1 276.2,379.3 276.3,382.3 278.4,383.4 278.6,386.1 277.4,388.3 280.4,392.5 279.1,394.4 280.2,395.6 279.6,402 279.6,402.5 280.9,404.2 280.6,408.3 281.1,410.2 280.9,412.6 281.5,416.1 282.4,416.9 279.8,420.2 282.9,421.1 280.6,423.3 283.4,425.7 282.3,429.2 284,431.3 283,433.1 284.7,436.9 283.3,437 282.8,441 283,443.5 284.1,445.3 284.5,447.7 283.2,449.1 173.2,163.3 173.7,168.3 176.9,169.5 178.8,173.7 183.8,177.4 185.8,180 187.6,182.1 190.8,184.9 194.9,188.6 196.1,191.7 199.2,192.6 201.9,195.2 204.5,199.9 206.6,203.3 208.6,206 209.5,209.3 211.9,212.2 214.4,216.1 214.8,217.9 217.7,223 220.1,226.6 222.6,229.6 223.1,231.5 223.8,235.3 226.3,239.2 227.4,242.2 229.2,245.9 230.2,249.3 230.8,251.3 233.2,255.8 234,258.3 237.6,261.1 236.7,265.2 237.1,268.2 241,272.2 241.1,275 241.8,278.5 242.6,280.4 243.9,284.7 245.1,287.6 244,291.2 248.8,294.5 247.3,295.6 248.7,298.6 250,302.1 251,306.8 249,308.9 250.9,310.4 251.6,314.5 253.7,316.4 254.3,322.6 254.5,324.2 254.6,325.6 255.8,329.9 256.9,334.8 257.8,335.7 259.5,336.8 258.1,340.5 259.6,344.1 260.9,347.8 263.6,349.6 262.8,352.2 264.7,353.4 265,357.7 265.6,361.2 267.1,361.7 266.7,364.4 267.7,367.1 268.6,370.9 269.1,373.1 267.4,377.4 269,379.7 270,381.7 271.7,384 271.8,385 271.7,388.7 271.2,391.4 272.1,395.5 270.5,396.5 271.9,400.1 272.6,401.9 273,404.6 274.6,406.1 274.1,407.6 274.7,412.1 274.2,414.8 273.1,414.5 274,418.2 275.4,420.9 275.6,424 275.4,424.6 274.9,430 274.1,430.3 277.7,433.2 275.8,435.1 277.5,438.4 276,440.3 277.2,442.9 278.4,443.8 275.9,446.7 278.9,449.2 171.4,168 173.2,169.6 176.5,171.8 179.8,176.2 181.6,177.5 183.6,181.5 187.2,184.6 189.2,187 193.7,190.3 195.8,194 197.3,195.3 200.8,200 203,201.3 202.6,204.4 205.3,210.6 208.4,213 209.8,217.1 211.2,220.1 213.3,221.1 214.5,227.6 216.2,229.6 217.6,232.5 220.8,236 220.4,236.7 222.2,241.1 222.5,246.9 226.1,247.7 227.6,253.1 227.5,256.6 228.1,258.1 229.6,261.4 233.1,264.3 232.5,267.8 234.9,271.6 236.7,274.4 235.8,277.8 237.9,280.6 239.1,286.3 239.1,287.9 241.6,290.4 240.3,293.2 242.1,297.8 242.2,300.5 244,304.4 242.1,306.8 243.9,310.5 244,312.4 244.2,314.5 245,318.6 245.8,321.2 245.4,324.3 245.3,328.8 246.5,331.5 246.8,334 247.2,336.3 249.4,340 251.1,342.1 252.8,345.1 253.7,348.3 254.2,350 255.6,352.5 256.5,356.6 257.8,357.9 256.6,360.9 258.3,364.7 258.8,366.2 260.4,368.6 260.2,373.2 262.3,374.9 261.7,376.1 262.6,379.6 262.8,381.7 263.1,384.6 263.8,388.7 264.4,388.4 263.6,391.1 264.2,395.5 265.8,397 266.1,399.4 265,401.3 265.9,406.3 265.9,408.6 268.6,409.7 267.7,411.8 268,415.4 268.3,418.1 269.7,419.9 269.1,421.9 269.3,423.3 269.6,426.9 268.7,431 268.7,430.6 270,431.9 269.2,434.6 269.2,438.1 270.5,441.5 271.1,443.9 271,444.6 271.5,446.8 270.1,450.9 171.9,167.4 174.7,171 175.6,173.2 178.3,176.6 181.2,181 184.6,182.5 186.3,185.5 188.6,190.4 191.1,191.4 192.8,196.9 195.6,200.8 196.2,203.5 198.8,206.6 201.6,210.4 202.5,213.3 203.7,215.3 207,219.9 206.7,222.5 209.9,228 212.4,230.7 211.5,233.2 215.2,236.9 216.7,239.6 219.5,244.4 219.3,245.5 222.7,249.1 223.3,254.6 222.8,256.4 224.6,259.9 226.5,264.4 228.1,265.8 229.8,268.8 229.7,274.2 230.4,274.9 232.2,277.7 231.1,282.8 233.1,284.6 234.2,287.4 234.1,291.7 237.6,295.4 236.5,296.6 236.2,300.1 237.2,304.1 236.7,307.4 236.3,309.3 237.5,312.6 236.1,316.6 236.7,320.2 238.4,323.3 237.9,326.1 238.8,327.5 238.8,331.3 238.1,335 239.8,338.3 242.3,338.5 242.4,345 244.5,347.2 245,347.2 245.1,351.7 248.2,353.1 248,356.6 247.6,358.8 251.4,363.7 250.6,366.1 251,366.4 250.2,370.6 252.6,374.5 253.9,375.2 252.6,379 254.5,380.1 253.4,383.7 256.9,384.9 256.6,388.3 257.9,390.6 259.1,392.8 257.5,395.2 256.3,397.4 260,400.8 258.8,403.4 258.1,405.3 260.8,408.6 260.1,411.3 262.8,412.5 262.1,413.9 259.9,418.3 262,420.3 261.7,422.2 263.1,426.4 262.4,425.7 264,430.1 263.6,432.1 265.3,434.3 263.8,434.8 263,438.2 263.6,441.4 263.1,444.9 262.9,445.1 264.1,446.7 80.2,257.7 82.9,258.2 86,257.6 88.6,256.9 91.8,257.4 94.8,257.8 97.1,257.1 100.3,258 103.8,257.3 106.6,257.8 109.8,257.6 112.3,257.9 116.1,257.7 119.4,257.4 121.9,257.7 125.1,257.4 128,257.4 131.2,258 134,258.4 136.4,257.8 140.6,257.8 142.4,258.6 146.2,257.8 149.2,258.1 151.5,258.6 154.8,258.5 157.8,259 160.9,259.8 164.1,260.3 166.3,260.7 169.5,262.4 172.8,262.6 175.5,263.7 178.1,265.5 180.5,267.5 182.6,269.2 184.6,271 187.6,274.4 189.6,275.2 190.9,277.8 192.6,279.5 195.1,281.8 197.3,285 198.2,286.9 199.6,289.1 201.8,292.3 203.3,294.8 204.4,297.5 205.5,300 207.8,303.2 208.4,305.3 210.2,308.8 210.3,310.8 212,314.2 212.6,316.8 213.7,320.3 214.8,322.3 215.4,325.6 216.6,327.7 217.2,330.5 217.5,333.5 218,336.6 218.7,340 219.9,342.7 80.1,258 82.8,257 86.7,257.9 89.8,257.6 92,257.5 95.7,257.5 98.2,257.2 101.1,258 104.6,257.4 107.1,257.6 110.7,257.4 113.4,257.1 116,258 119.8,257.5 122.2,258.3 125.3,258 128.7,258.5 131.8,259 134.2,259 137.4,259.1 140,260.4 142.7,261 146.3,261.2 149.3,262.2 152.4,262.7 154.8,263.7 158.3,265.2 160.1,265.9 162.9,267.4 165.7,269.8 167.3,271.2 170.4,272.6 172.4,274.7 174.5,277.4 175.9,279.8 178.1,282.3 180.1,284.6 181.8,287.1 183.2,289 185,292.1 187,293.7 187.6,297.4 188.6,299.7 191,303 191.2,305.7 193,308.3 193.8,310.9 194.4,313.4 195.9,316.5 197.2,319.2 196.6,322.1 198.3,325.2 199,327.7 200.2,330.7 200.6,333.7 200.5,337.3 200.6,339.4 202.2,342.6 81.3,257.9 83.8,258.7 86.9,257.9 89.6,257.7 93.2,258.1 96,257.7 99.2,257.4 101.9,258 104.7,258.2 107.8,257.9 111.6,258.5 114.4,258.3 117.3,258.7 120.4,259.5 122.9,259 125.9,258.1 128.4,259.9 132,260.6 135,262.3 137.2,263.4 140.8,264.2 142.5,265.9 145.4,266.6 148.1,268.1 151,270.1 153.5,271.8 155,273.6 157.7,275.6 160.4,277.9 161.1,280.7 163.3,282.7 164.6,285.4 166.6,288.1 167.6,290.6 169.5,293.3 169.5,295.4 171.6,298.4 173.2,301.5 174.5,303.9 175.3,307.4 176.2,309.7 177.9,312.5 177.6,315.4 179,318.1 180.3,321.2 180.6,324.2 181.6,326.9 182.2,329.8 182.6,332.5 183.3,335.3 183.4,339 184.2,341.5 184.7,344.5 81.5,258.1 84.2,258.4 87.3,258.5 89.8,257.8 93.8,258.2 96.3,258.4 99.1,258.4 101.7,258.3 105.3,258.7 108.8,258.3 112.1,258.5 113.8,258.1 118,259.3 120.2,259.6 122.9,261 126,262.4 128.6,262.5 131.4,264.9 133.4,267.3 135.8,269.1 138.1,270.4 140.4,272.6 142.7,275.3 144.2,277.5 146.1,279.7 147.9,282.2 149.3,284.5 150.7,287.6 151.7,289.9 153.1,293 154.3,295.7 156.2,298.4 156.3,301.1 158.2,303.8 159.2,306.9 159.9,309.5 160.5,312.3 161.5,315.5 162.4,318.1 163,321.3 163.1,323.8 164,326.9 164.8,329.8 165.1,333.1 166,335.3 166.4,338.4 167.4,341.6 167,344.8 81.9,258.3 85.5,258.4 88.3,258.8 90.7,259 94.2,258.8 96.7,258.9 100.1,258.5 103.8,259 105.9,259.1 109.3,259.6 112.2,260 115.4,259.7 117.6,260.6 120.5,262.8 122.9,263.9 124.5,266.9 126.3,268.9 128.3,270.8 130,274.1 131.4,276.3 132.3,279.1 133.9,282 135.1,285.4 136.7,287.2 137.2,290.9 138.4,293.5 140,295.7 140.4,298.8 141.1,301.2 142.1,304.8 142.9,307.3 143.6,309.8 145,312.4 144.9,316.3 145.2,319.3 146.8,321.7 146.9,324.5 147.6,327.9 147.9,331.3 148.5,334.3 148.9,336.4 149.2,339.9 148.9,343.2 82.5,258.6 85.2,258.6 88.6,258.5 91.5,258 95,258.5 96.7,258.7 100.2,259.4 103.2,259.5 106.1,260.4 109.6,260.9 111.9,261.4 114.6,262.7 117.2,264.2 117.9,267 118.9,269.9 120,272.5 121.2,276.1 121.4,278.6 122.4,281.7 122.7,285 123.8,287.9 124.1,291.3 125.4,293.4 125.4,296.9 125.8,299.5 126.7,302.1 127.1,304.7 127.5,307.5 129,311.7 129,314.3 129.4,317.6 129.8,320.4 129.5,323.2 130,325.6 130.2,329.2 131.3,331.5 131.8,335.5 131.3,337.8 131.7,341.3 131.8,343.6 79,411 80,417 81,405 93,302 98,303 424.2,449 424.1,449.1 424.2,447.4 424.3,445.9 424.1,443.6 424,442.5 424.7,441.8 424.4,439.1 423.8,437.9 424.9,436.7 424.3,434.6 424.8,433.6 424.4,432.1 425.3,430.4 425.4,429.6 424.6,428 424.6,425.6 424.6,424.1 425.1,423 425.2,421.9 423.4,420.2 424.2,418.6 424.7,417.1 426,414.7 425.5,414 424.6,412.9 425.7,410.8 425.5,411.2 425.9,407.2 425.8,406.4 426.2,405.1 426.1,403.9 426.6,401.4 426.7,400.4 427.7,399.4 427.4,397.7 427.9,397.2 427.7,395 428.7,392.8 428.7,391.9 428.7,390.6 429.8,389.4 429.6,387.5 431.2,385.4 430.6,385 431,383.4 431.5,382 432.5,380.1 432.4,378.8 432.6,377.4 432.8,376.4 434.8,375.5 435.2,372.8 436,371.5 435.8,371.5 436,369.6 437.5,367.8 437.7,366.9 438.7,365.9 440.5,363.5 440.5,362.9 441.2,361.3 442.8,360.7 443.1,359.5 445.3,358.2 445.8,358.7 448.2,356.4 448.3,356.8 449.8,356 451.6,355.9 452,354.2 454.1,355.6 456.1,354.1 458,355.5 459.1,355.2 460.9,356.4 462.1,356.5 463.4,356.6 464.4,357.5 465.9,358.1 467.7,359.4 468.8,359.4 469.7,361 470,361.9 472,363.9 472,364.1 473.3,365.6 475,366.3 474.1,368.1 475.8,369.6 477,371.8 477.2,371.8 477.3,373.5 479.3,374.6 480.2,376 481.1,377.5 480.5,378.3 481,379.1 482.6,381.7 484.1,382.6 483.6,383.5 484.8,385.6 484.6,387.1 485.7,387.3 486.2,389.7 486.1,390.8 487.6,393.2 488.1,393.4 487.2,395.8 487.3,396.5 487.3,399.2 489.1,400 489,401 489,403 489.1,404.8 489.5,405.2 490.7,407 490.5,408.4 489.4,410.3 490.1,412.1 490.2,412.1 491.4,414.7 491.5,415.4 492.1,416.8 491.6,418.6 491.8,420.9 491.9,422.2 492.7,422.6 492,424.7 492.4,426.6 491.9,428.3 493.3,429.3 492.4,430.9 492.9,432.7 493.2,434.3 493.2,436.1 492.3,436.4 493.8,437.6 494,439.3 493.8,440.9 493.6,443 493.8,444.2 495,445.9 493.5,447.8 494.4,449.5 428.9,449.5 428.5,448.6 428,446.1 426.5,443.7 429,441.1 427.9,440.1 428.5,438.8 427.4,436 428.8,433.3 428.4,432.9 429.2,430.3 427.3,427.9 428.9,425.9 428.8,425.6 428.8,421.5 429.1,419.9 429,418 429.7,416.2 428.9,414 430,411.8 430.6,410.5 429.8,408.3 431.6,406.9 430.9,404.6 430.9,401.4 431.9,400.3 432.2,398.2 432.5,396 433,394.7 433.2,392.8 432.8,390 434.9,389.4 434.9,386.5 434.7,384.8 436.4,382 436.9,381.1 437.6,378.5 438.5,376.4 439.8,375.5 439.5,374.3 441.7,371.6 443.3,369.8 443.6,369.3 443.6,367.7 446,365.7 447,364.5 448.5,362.6 450.5,361.4 453.4,360.6 454.2,360.6 456.5,360.7 458.9,359.9 460.3,360 462.9,360.8 464,360.2 467.1,362.7 467.8,363.5 469,364 470.5,365.8 471.7,366.7 473,369.4 474,370.8 474.2,372.4 476.1,373.6 476.2,376.3 477.5,378.1 478.4,380 479.2,380.8 479.9,383.3 480.9,385.2 480.9,387.8 482.2,389.7 482.6,391.4 482.9,393.6 483.1,395.2 483.4,398.3 483.7,398.9 483.8,401 484.4,402.4 483.6,405.1 484.1,407.1 485.2,409.5 486.2,411.1 485.3,412.3 485.4,414.9 484.9,416.9 486.1,419.2 486.2,420.9 486.1,422.6 485.8,424.9 487.6,426.9 487.1,428.4 487.8,430.5 487.6,432.9 486.8,435.4 487.4,436.9 487.7,438.8 487.4,441.1 487.5,442.9 487.5,444.1 487.6,446.6 488,449.4 429,402.1 431.1,400.9 434.6,399.7 436.2,400.7 439.9,400 441.8,400.8 444.6,398.4 448.1,398.6 449.3,398.3 452,397.3 454.4,395.6 457.3,395.5 458.4,394.1 461.9,393.4 463.7,393.1 466.1,391 468.8,391.8 471.4,391.8 473.6,391 476.8,390.1 479.4,391.2 481.3,391.1 512.3,449.6 512.5,448.9 512.2,447.7 512.6,446.6 511.7,445.4 512.3,443.7 511.9,442.6 511.8,441.7 512.5,441.2 512.6,439.6 512.6,438.5 512,437.1 512.3,435.5 512,434.2 512.1,432.7 512.4,432 512.3,430.9 512.5,429.4 512.2,427.8 511.4,426.4 513,425.3 512.6,425.4 512.2,424.3 513.2,422.8 513.4,421.5 512.2,420.2 512.4,418.3 512.1,418.5 512.4,416.4 512.4,415.3 512.6,413.8 512.3,412.2 512.6,411.7 513.8,410.8 513.7,409.4 513,407.5 513.2,406 513.1,406.3 513.5,404.9 513.3,402.7 513.3,401.9 514.1,401.6 513.4,399.5 513.7,398.3 513.4,397.3 514.1,396.2 513.6,394.8 513.5,394 513.9,392.4 514.3,391.1 514.2,389.4 515.5,389 515,388.6 515.1,386.8 515.3,385.8 515.6,384.3 515.5,383.1 516.3,381 516,380.4 516.1,378.6 516.7,377.9 516.5,376.9 516.2,375.7 516.3,374.3 517.2,373.5 517.6,372.3 518.7,371.3 517.6,369.8 518.1,368.8 518.4,367.3 519.7,366.5 519.2,365.3 519.6,364.8 520.2,363.5 519.1,362.1 521.2,361.6 521.2,359 521.8,358.3 521.2,357.1 522.8,356.8 523.1,354.7 524.3,353.6 523.8,352.4 524.9,352.1 525.2,350.8 525.4,349.8 525.3,349.1 527,347.5 527.2,346.8 528.5,345.8 528.6,344.5 528.8,343.5 530.2,342.7 531,342.2 532,341.2 533,340.4 533.6,339.7 533.8,339.3 535,338.4 536.5,337.8 537.6,336.4 539.1,336.6 540,336.6 541.5,336.8 542.4,335.9 543.4,336.6 545.4,336.7 545.9,337 547.1,336.6 548.3,336.3 549.8,337.4 550.4,337.3 551.7,338.8 552.4,338.4 553.9,338.7 553.9,339.8 555.5,340.5 556.5,341.4 557.6,341.8 558.4,343.1 559.9,344 560.7,343.1 560.9,345.1 562.2,345.4 563.5,347.1 563.5,347.9 564.4,348.4 565.6,349.5 565.5,350.3 566.8,351.1 568,352.1 568.8,353.9 568.3,354.7 569.7,355.6 569.3,356.8 571.1,357.2 571,358.9 571.2,359.9 571.6,361.6 572.4,361.8 573.3,362.8 573.3,364.6 574,365.7 574.4,366.7 574.8,368 575.7,368.7 575.7,370.3 575.8,371 576.3,371.3 576.1,374 576.7,376.2 578.1,377.7 579.1,380 579.8,382.1 580.7,385.5 582.2,388.7 582.6,391.3 582.4,395.4 584.4,399 585.2,404.4 585.7,409.2 586.6,413.3 587,420 588.3,426.4 588.5,433.6 589.4,442.1 536.5,450.4 536.1,448.2 536.2,446.1 537,442.8 536.2,442.2 537,439.5 536.8,438.5 536.7,435.1 536.9,433.5 537.7,431.7 538.6,430.2 537.6,427.9 537.9,426.4 539.8,424.2 540.2,422 540.9,421.8 541.3,419.7 544.2,417.1 544.8,416.8 547.9,416.8 549.3,418 551.1,418.8 552.6,420.4 553.9,421.8 555.7,421.9 557.5,424 557.6,425.4 559.2,426.4 561.5,427.9 562.6,429.7 564.6,431.4 564.2,432.5 565.2,434.9 566.2,437.3 566.8,438.8 567.3,440.6 567.6,443 568.1,444.4 567,446.2 568.2,447.4" fill="none" stroke="none" marker-start="url(#mo)" marker-mid="url(#mo)" marker-end="url(#mo)"/>
<path d="M232.7,284.4 234.3,288.4 237.8,295.6 237.8,300.9 240.5,304.2 243.1,309.6 242.2,314.8 243.9,319.9 245.2,327.2 246.7,331.5 249,336.3 249.9,342.1 250.5,347.7 251.7,353.0" fill="none" stroke="none" marker-start="url(#mg)" marker-mid="url(#mg)" marker-end="url(#mg)"/><path d="M232.4,282.9 236.6,288.6 234.6,292.1 237.1,298.3 240.4,303.4 239.9,308.1 239.7,306.5 243.9,314 243.1,319.8 247.8,324.7 248.3,331.1 246.1,333.6 251,342.7 252.8,350.8 252.9,352.2" fill="none" stroke="none" marker-start="url(#mo)" marker-mid="url(#mo)" marker-end="url(#mo)"/>
<path d="M192.0,253.0 193.5,255.2 194.9,257.4 196.3,259.6 197.7,261.8 199.1,264.1 200.4,266.3 201.7,268.6 203.0,270.9 204.2,273.3 205.4,275.6 206.5,278.0 207.6,280.4 208.7,282.8 209.6,285.3 210.5,287.7 211.4,290.2 212.3,292.7 213.2,295.2 214.0,297.7 214.9,300.2 215.7,302.6 216.6,305.1 217.6,307.6 218.6,310.0 219.6,312.4 220.8,314.8 222.1,317.1 223.3,319.4 224.6,321.7 225.8,324.0 226.9,326.4 227.9,328.8 228.8,331.3 229.6,333.8 230.4,336.3 231.1,338.9 231.8,341.4 232.5,344.0 233.1,346.5 233.7,349.1 234.4,351.6 235.0,354.2 235.7,356.7 236.3,359.3 237.0,361.8 237.8,364.3 238.5,366.9 239.2,369.4 239.9,371.9 240.6,374.5 241.2,377.0 241.9,379.6 242.4,382.1 242.9,384.7 243.4,387.3 243.9,389.9 244.3,392.5 244.7,395.1 245.1,397.7 245.5,400.3 245.9,402.9 246.2,405.5 246.6,408.1 246.9,410.7 247.2,413.4 247.5,416.0 247.8,418.6 248.1,421.2 248.4,423.8 248.7,426.4 249.0,429.0 249.3,431.7 249.6,434.3 249.8,436.9 250.1,439.5 250.3,442.1 250.6,444.8 250.8,447.4 251.0,453.5 224.0,453.5 223.9,447.5 223.8,445.0 223.7,442.5 223.5,440.1 223.4,437.6 223.2,435.1 223.0,432.6 222.8,430.1 222.7,427.7 222.4,425.2 222.2,422.7 222.0,420.2 221.8,417.7 221.5,415.3 221.3,412.8 221.0,410.3 220.7,407.9 220.4,405.4 220.1,402.9 219.7,400.5 219.4,398.0 219.0,395.5 218.5,393.1 218.1,390.6 217.6,388.2 217.1,385.8 216.5,383.4 215.9,381.0 215.2,378.6 214.5,376.2 213.7,373.8 213.0,371.4 212.2,369.1 211.5,366.7 210.8,364.3 210.0,361.9 209.3,359.6 208.5,357.2 207.7,354.9 206.8,352.5 206.0,350.2 205.3,347.8 204.5,345.4 203.8,343.0 203.2,340.6 202.6,338.2 202.0,335.8 201.4,333.4 200.9,331.0 200.4,328.5 199.9,326.1 199.4,323.7 198.9,321.2 198.5,318.7 198.2,316.3 197.9,313.8 197.6,311.4 197.3,308.9 197.1,306.4 196.9,303.9 196.7,301.4 196.5,299.0 196.2,296.5 195.9,294.0 195.5,291.6 195.1,289.1 194.6,286.7 194.1,284.2 193.6,281.8 193.1,279.4 192.5,277.0 191.9,274.5 191.2,272.1 190.6,269.8 189.8,267.4 189.0,265.0 188.2,262.7 187.4,260.3 186.5,258.0Z" fill="#0000ff" stroke="#0000ff" stroke-width="4" stroke-linejoin="round"/>
<path d="M80.0,286.0 81.9,286.1 83.8,286.3 85.6,286.4 87.5,286.6 89.4,286.7 91.3,286.8 93.2,286.9 95.0,287.1 96.9,287.2 98.8,287.3 100.7,287.3 102.6,287.4 104.5,287.5 106.3,287.5 108.2,287.6 110.1,287.7 112.0,287.7 113.9,287.8 115.8,287.8 117.6,287.9 119.5,287.9 121.4,287.9 123.3,288.0 125.2,288.0 127.1,288.0 128.9,288.0 130.8,288.0 132.7,287.9 134.6,287.8 136.5,287.7 138.4,287.5 140.2,287.4 142.1,287.3 144.0,287.2 145.9,287.1 147.8,287.0 149.6,287.0 151.5,287.0 153.4,287.2 155.3,287.4 157.1,287.7 159.0,288.0 160.8,288.4 162.7,288.9 164.4,289.6 166.0,290.6 167.4,291.9 168.7,293.2 170.0,294.6 171.2,296.0 172.4,297.5 173.5,299.0 174.6,300.5 175.6,302.1 176.6,303.8 177.5,305.4 178.4,307.1 179.3,308.7 180.2,310.4 181.1,312.0 181.9,313.7 182.8,315.4 183.6,317.1 184.4,318.8 185.2,320.5 185.9,322.2 186.7,324.0 187.4,325.7 188.2,327.4 188.9,329.2 189.6,330.9 190.3,332.7 191.0,334.4 191.7,336.2 192.4,337.9 193.1,339.7 193.7,341.5 194.4,343.2 195.0,345.0 193.0,356.0 192.3,354.2 191.7,352.4 191.0,350.7 190.4,348.9 189.7,347.1 189.0,345.3 188.3,343.5 187.7,341.8 187.0,340.0 186.3,338.2 185.7,336.4 185.0,334.6 184.4,332.9 183.7,331.1 183.0,329.3 182.4,327.5 181.7,325.8 180.9,324.0 180.1,322.3 179.3,320.6 178.5,318.9 177.6,317.2 176.7,315.5 175.8,313.8 174.8,312.2 173.8,310.6 172.8,309.0 171.6,307.5 170.5,306.0 169.3,304.5 168.1,303.0 166.8,301.7 165.3,300.4 163.7,299.4 162.0,298.6 160.2,298.0 158.4,297.4 156.6,296.9 154.7,296.5 152.8,296.2 151.0,296.0 149.1,296.0 147.2,296.1 145.3,296.2 143.4,296.3 141.5,296.5 139.6,296.7 137.7,296.9 135.8,297.1 133.9,297.2 132.0,297.4 130.1,297.5 128.2,297.5 126.3,297.5 124.4,297.4 122.5,297.3 120.6,297.1 118.7,297.0 116.9,296.7 115.0,296.5 113.1,296.2 111.2,296.0 109.3,295.7 107.5,295.4 105.6,295.1 103.7,294.8 101.8,294.4 100.0,294.1 98.1,293.7 96.3,293.2 94.4,292.7 92.6,292.2 90.8,291.7 89.0,291.1 87.2,290.5 85.4,289.9 83.6,289.3 81.8,288.7 80.0,288.0Z" fill="#0000ff" stroke="#0000ff" stroke-width="6" stroke-linejoin="round"/>
<path d="M285.0,453.5 285.0,447.6 285.1,445.2 285.1,442.9 285.2,440.5 285.2,438.1 285.3,435.7 285.4,433.3 285.5,431.0 285.6,428.6 285.7,426.2 285.8,423.8 285.9,421.5 286.0,419.1 286.2,416.7 286.3,414.3 286.5,412.0 286.6,409.6 286.8,407.2 287.0,404.8 287.3,402.5 287.5,400.1 287.8,397.7 288.1,395.4 288.5,393.0 288.9,390.7 289.4,388.4 290.0,386.1 290.7,383.8 291.5,381.5 292.3,379.3 293.2,377.1 294.2,375.0 295.5,372.9 296.9,371.0 298.7,369.5 300.7,368.2 302.8,367.2 305.1,366.6 307.5,366.5 309.9,366.8 312.2,367.1 314.6,367.7 316.7,368.8 318.5,370.3 320.1,372.0 321.7,373.8 323.1,375.7 324.4,377.8 325.5,379.8 326.6,382.0 327.5,384.2 328.3,386.4 329.1,388.6 329.8,390.9 330.4,393.2 330.9,395.5 331.3,397.9 331.7,400.2 332.1,402.6 332.4,404.9 332.7,407.3 333.0,409.7 333.2,412.0 333.5,414.4 333.7,416.8 333.9,419.1 334.1,421.5 334.3,423.9 334.5,426.3 334.7,428.6 334.9,431.0 335.1,433.4 335.3,435.7 335.4,438.1 335.6,440.5 335.7,442.9 335.8,445.2 335.9,447.6 336.0,453.5 314.0,453.5 314.0,448.4 313.9,446.7 313.9,445.1 313.8,443.5 313.8,441.8 313.8,440.2 313.7,438.6 313.7,436.9 313.6,435.3 313.5,433.7 313.5,432.1 313.4,430.4 313.4,428.8 313.3,427.2 313.2,425.5 313.2,423.9 313.1,422.3 313.0,420.6 313.0,419.0 312.9,417.4 312.8,415.7 312.8,414.1 312.7,412.5 312.6,410.9 312.5,409.2 312.4,407.6 312.3,406.0 312.2,404.3 312.1,402.7 311.9,401.1 311.7,399.5 311.4,397.9 311.0,396.3 310.6,394.7 310.1,393.2 309.4,391.7 308.6,390.2 307.4,389.1 305.8,389.0 304.2,389.0 302.6,389.1 301.4,390.2 300.6,391.7 299.9,393.2 299.4,394.7 299.0,396.3 298.6,397.9 298.3,399.5 298.1,401.1 297.9,402.7 297.8,404.3 297.7,406.0 297.6,407.6 297.5,409.2 297.4,410.9 297.3,412.5 297.2,414.1 297.2,415.7 297.1,417.4 297.0,419.0 297.0,420.6 296.9,422.3 296.8,423.9 296.8,425.5 296.7,427.2 296.6,428.8 296.6,430.4 296.5,432.1 296.5,433.7 296.4,435.3 296.3,436.9 296.3,438.6 296.2,440.2 296.2,441.8 296.2,443.5 296.1,445.1 296.1,446.7 296.0,448.4 296.0,453.5Z" fill="#0000ff" stroke="#0000ff" stroke-width="5" stroke-linejoin="round"/>
<path d="M383.0,453.5 383.0,447.8 383.0,445.7 383.1,443.5 383.1,441.3 383.2,439.2 383.2,437.0 383.3,434.8 383.4,432.7 383.5,430.5 383.6,428.3 383.7,426.2 383.8,424.0 383.9,421.8 384.0,419.7 384.1,417.5 384.3,415.3 384.5,413.2 384.7,411.0 384.9,408.9 385.1,406.7 385.4,404.5 385.7,402.4 386.0,400.2 386.3,398.1 386.7,396.0 387.3,393.9 387.8,391.8 388.5,389.7 389.3,387.7 390.1,385.7 391.2,383.8 392.5,382.1 393.9,380.4 395.5,379.0 397.3,377.8 399.3,376.9 401.3,376.1 403.4,375.6 405.6,375.5 407.8,375.8 409.9,376.3 411.9,377.0 413.9,377.9 415.6,379.2 417.2,380.7 418.7,382.2 420.2,383.8 421.5,385.5 422.8,387.3 424.0,389.1 425.0,391.0 426.0,393.0 426.9,395.0 427.6,397.0 428.4,399.0 429.0,401.1 429.7,403.2 430.3,405.2 430.8,407.3 431.4,409.4 431.9,411.5 432.4,413.7 432.8,415.8 433.3,417.9 433.7,420.0 434.1,422.2 434.5,424.3 434.9,426.4 435.3,428.6 435.6,430.7 436.0,432.8 436.4,435.0 436.7,437.1 437.0,439.3 437.3,441.4 437.7,443.5 438.0,445.7 438.2,447.8 438.5,453.5 435.5,453.5 435.3,448.2 435.1,446.4 434.8,444.6 434.6,442.8 434.3,441.1 434.1,439.3 433.8,437.5 433.5,435.7 433.2,433.9 432.9,432.1 432.6,430.4 432.2,428.6 431.9,426.8 431.6,425.0 431.2,423.3 430.8,421.5 430.5,419.8 430.0,418.0 429.6,416.2 429.1,414.5 428.6,412.8 428.1,411.0 427.5,409.3 426.9,407.7 426.2,406.0 425.5,404.3 424.8,402.7 424.1,401.0 423.3,399.4 422.6,397.7 421.8,396.1 420.9,394.5 419.9,393.0 418.7,391.7 417.4,390.4 416.0,389.3 414.4,388.4 412.6,387.9 410.9,387.7 409.1,387.6 407.3,387.5 405.5,387.9 403.9,388.8 402.6,390.0 401.3,391.2 400.0,392.5 398.9,394.0 397.9,395.5 397.0,397.0 396.2,398.6 395.4,400.2 394.7,401.9 394.0,403.6 393.3,405.2 392.8,407.0 392.3,408.7 391.9,410.5 391.6,412.2 391.3,414.0 391.0,415.8 390.7,417.6 390.5,419.4 390.3,421.2 390.2,423.0 390.0,424.8 389.9,426.6 389.8,428.4 389.7,430.2 389.6,432.0 389.5,433.8 389.4,435.6 389.3,437.4 389.2,439.2 389.2,441.0 389.1,442.8 389.1,444.6 389.0,446.4 389.0,448.2 389.0,453.5Z" fill="#0000ff" stroke="#0000ff" stroke-width="4" stroke-linejoin="round"/>
<path d="M290.0,453.5 290.0,404.0 326.0,402.0 335.0,396.0 350.0,394.0 365.0,395.0 384.0,400.0 384.0,453.5Z" fill="#0000ff" stroke="#0000ff" stroke-width="3" stroke-linejoin="round"/>
<path d="M210.0,453.5 210.0,400.0 216.0,370.0 230.0,362.0 248.0,366.0 255.0,380.0 256.0,404.0 222.0,408.0 222.0,453.5Z" fill="#0000ff" stroke="#0000ff" stroke-width="2" stroke-linejoin="round"/>
<path d="M86.9,170.1 91.3,170.6 97.1,171.2 100.3,174 104.5,174.8 108.4,176.8 111.8,179 116.1,180.8 120.6,182.6 124.2,185 127.8,187.7 131.3,189.4 134.1,191.9 138.1,195.3 141.9,197.1 144.5,199.1 146.3,202.1 150.4,204.4 152.7,208.3 156.3,209.7 161,213.5 162.3,216.6 164.7,220 166.9,221.1 170.4,224.2 173.8,226.6 175,230.7 178.1,234 180.3,237.7 182.1,239.4 185.1,242.1 186.5,245 188.4,247.6 190.5,250.3 193,253.3 196,258.2 197.3,260.1 198.1,263.9 200.3,266.5 201.5,269.8 203.1,272.2 204.1,274.8 206.9,277.9 207.7,281.7 209.2,285.1 209,287.8 211.8,289.6 211.8,294.1 213,296.2 215,299.5 216,302.1 217,306.2 218.1,307.2 219.5,311.4 219.9,315 220.9,318 223,320.4 224.8,321.4 226.2,325 227.7,328.1 227.9,330.6 229.8,332.9 229.7,335.2 231.5,339 231.3,340.5 233.2,343.1 233.2,346.3 232.8,349.6 234.4,353.1 236.5,354.7 236.5,358.1 236.2,359.6 238.2,362.5 238,365.1 238.6,367.5 239.9,371.1 239.9,372 240.8,374.5 241,378.6 243.4,380.6 241.9,383.3 241.7,384.9 244.4,388.2 243.1,389.2 244.8,392.5 244.3,395.2 244.7,396.2 245.9,399.4 245.1,401.3 246.2,404 246.7,406.6 247.3,408.8 246.5,410.2 246.6,414.1 249.3,415.2 247.1,418.3 248.3,420 248.3,421.6 248.3,425.3 249.7,426.9 248.8,429.4 249.9,431.6 249,433.6 250.2,435.1 249.1,437.9 250.3,440.3 250.3,441.4 250.2,443.2 250.1,445.5 250.5,448.5 250.2,449.9 137.8,198.9 142.4,200.6 146.7,204 149.4,208.4 153.9,211.8 157.8,214.3 160.4,216.2 164.1,220.4 167.3,223.8 169.3,226.4 173.4,231.7 175.5,234.6 179.6,237.1 180.9,240.4 184.7,245 185.9,247 188.6,252.7 190.9,255.1 193.9,258 195.7,263 197.2,265.4 200.1,269.6 201.7,273.4 203.9,276 204.9,280.7 207.9,285.1 207.8,288.5 210.4,291.2 211.4,295.5 213.7,297.6 213.9,301.9 214.6,306.4 216.7,308.2 217.2,312.5 217.8,316.3 220.6,318.9 222.6,323.3 224,324.7 226.9,327.7 226.4,330.2 228.7,334.7 229.2,337.9 229.6,340.3 230,344.5 231.5,348.6 231.6,350.1 232.2,354.7 232.8,357.3 235.7,359.6 235.9,361 235.9,364.3 237.2,368.6 237.2,372.3 238.9,374 239,376.1 240,381.8 240.2,383.3 240.9,386.4 242.2,388.4 240.9,390.9 243.8,393.9 243.7,396.5 242.2,399.9 244.3,401.8 244.1,405.1 244.3,407.8 244.9,408.3 245.3,412.3 245.1,415.6 245.7,418.3 247.2,420.5 245.4,422.3 247.6,425.1 246.6,427.7 247.9,430.4 248.2,431.9 247.7,434.7 248.2,435.6 248.2,438.6 249.7,443.2 250.2,444.8 248.7,447.2 249.1,449.2 248.7,450.5 192.4,254.4 193.6,257.3 197.5,257 196.9,259.7 198.3,262.6 199.9,266.3 202.1,268.3 202.8,270.7 204.3,273.6 205.5,276.2 205.7,279 209.2,281.1 207.8,284.7 209.7,283.9 210.8,289.4 212.2,292.5 213.3,294.3 212.1,295.9 214.7,299.9 214.7,301.5 216.8,303.1 215.9,306.9 218.6,309.3 217.7,312.1 219.6,315 221.9,317.1 223.7,318.8 225.1,322.5 226,324.9 226.4,326.9 228.1,327.8 228.7,330.7 229.1,333.6 231.1,335.7 231.1,337.3 231.7,341.8 232.9,343.7 232.5,345 233.4,347.2 233.1,351.4 234,354.5 234.2,355.8 235,358 235.8,360.2 237.1,362.2 238.3,366.1 238.1,367.9 239.3,369.5 241.6,370.1 239.9,372.7 240.8,376.3 244.7,379 243.6,382 242.3,383.7 244.4,385.7 243.7,388.2 242.7,389.5 244.5,392.8 243.9,394.4 244.9,396.7 245.9,399.2 245.8,400.2 245.1,403.8 245,406 246,407.3 247.3,409.6 246.4,411.8 247.4,416.6 245.9,416.6 247.7,419.5 247.8,418.9 249.4,422.2 248.5,424.1 247.9,426.9 249.7,430 248.8,431.8 249.2,433.6 249.8,436.1 249.4,437.5 250.3,439.8 249.6,443.1 250.1,444.4 250.8,446.8 249.1,449.4 250.8,448.8 189.8,258.2 191.5,258 192,262.8 192.5,264.2 194.6,268.8 195.8,270.8 196.6,271.8 199,275.7 197.8,278.4 200.7,280.1 201.2,283.5 201.5,285.6 202.1,288.6 202.3,291.5 202.8,294.3 204.5,296.1 205.9,301.2 206.8,301.3 207.4,305.2 206.9,307.3 207.6,311.5 208.7,312.7 208.5,315.3 210.4,319.6 210,320.7 211.4,322.6 213,326.1 212.4,327.3 215.3,330.8 215.6,332.7 215.6,335.9 216.2,337.2 217.3,341.2 217.2,343.8 219.3,344.7 219.5,347.8 220.7,350.8 219.8,351.6 222.4,355.1 222.6,357.7 224.2,358.8 224.5,361.5 224.9,365.5 223.9,367.1 225.5,368.9 226.4,370.6 226.3,374.3 228.4,375.6 227.2,380.1 229.8,380.9 228.7,382.4 230.2,384.4 231.7,387.5 231.2,388.9 230.6,391.4 231.9,394 231.8,396.7 232.5,399.9 232.5,400.2 233,404.3 232.8,405.4 233.3,407.9 234,409.2 233.9,412.7 235.2,414.9 235.3,416.1 234.5,419.2 234.1,420.6 233.8,422.5 234.9,423.9 236.1,426.4 235.6,428.9 235.5,432.3 235.9,433.4 235.4,435 236.3,437.2 236.3,439.6 238.1,441.4 237,443.3 239.2,446.9 237.8,448.2 236.9,449.5 187.3,259.9 187.5,262 189.6,265.7 188.4,268.4 191.9,270.6 191.9,272.8 193.1,275.9 192.1,279.3 195.6,281.9 193.3,285.6 195,289.3 194.4,289.6 195.5,293.9 196.4,297.2 195.3,298.5 196.6,302.6 197.3,304.4 196.4,308.1 198.2,312.3 197.6,314.2 197.1,315.1 197.9,317.9 198.2,320.5 199.3,323.2 200.4,326.1 200.4,329.9 201.2,331.4 201.5,333.9 202.6,335.8 203.6,340.1 204.3,341 202.8,343.5 204.9,347 205.4,348.5 207.5,350.6 208,354.2 206.9,356.1 208.4,357.5 208.1,359.4 210.7,362.6 211.3,364.4 211.5,367.4 211.3,368.6 213.6,372.3 213.2,374.4 215.2,378.2 214.6,379.6 217.6,381.4 217.7,381.6 218.3,385.9 216.2,388.8 218.9,391.4 219.4,392.7 218.3,394.6 219.2,397.5 219.2,399.5 220.6,402 222,405.6 219.6,405.7 219.7,407.4 221.4,409.8 220.4,412.5 222.1,414.6 221.4,417.8 222.3,419.6 222.8,420.6 222.5,423 223.3,426.3 221.8,428.8 221.9,430.8 223.1,431.3 222.2,433.8 223.2,435.6 223.8,437.1 223.5,440.3 222.2,442.5 222.7,442.4 223.4,446.2 224.6,448 81,287 83.7,287.1 86.2,286.1 89.4,287.3 92.1,286.7 93.9,287.5 98.2,286.3 101,287.8 103.9,288 107.5,286.5 109.7,288 113.6,288.7 114.6,287.8 119.4,288.7 123.1,287.3 124.7,287.2 128.5,287.1 131.7,288.6 134.3,286.3 136.4,288.1 138.9,287.3 142.8,287.8 146.1,287.3 148.6,287 151.8,287.5 154.8,288 156.7,288.6 160.7,289.2 163.7,289.8 167.3,290.4 168.5,292.7 170.5,294 172.2,297.2 173.6,299.7 174.7,303.3 177.5,306.2 178.1,306.7 180.3,309 181.6,312.4 182.6,315.7 184.1,319.5 185.8,320.1 187.2,322.8 187.8,325.6 188.4,330.1 189.7,331.5 190.8,334.6 193.3,336.8 192.5,340.8 193.2,342.9 81.7,287.2 83.5,287.3 86.2,288 89.9,289.9 93.4,289.1 95.2,290.5 97.4,290.1 101.4,290.1 103.9,291.4 106.4,290.8 110.1,291.8 112.6,292.7 116.3,292 119.3,292 121.9,293.4 125.7,292.6 129.2,292.2 132,292.6 133.9,293 136.5,292.7 139.9,292.2 144.4,292.1 146.1,291.5 149.2,290.7 151.7,291.6 155.8,290.7 158.3,292.9 161.3,292.7 164.8,293.6 166.9,297.3 167.2,298.5 170.7,300.8 171.8,302.8 173.1,305.5 176.1,307.5 176.5,310.3 178.6,313.3 179.9,315.9 180.4,316.7 182.9,322.3 182.7,323.6 185,327.5 186.4,330.5 187,332.7 188.4,334.9 190.1,338.4 191,340.5 192.1,342.9 192.7,344.6 192.8,349.7 81.5,288.7 83.5,290.7 87.9,290.6 90.6,291.7 94.2,292.5 95.1,292.9 99.9,294.2 101.7,294.8 105,295.3 106.8,294.8 111.3,295.7 114.1,297.6 116.6,296.8 119.4,296.6 122.7,296.3 124.3,298.3 128.7,298.2 131.8,297.4 135.2,297.6 136.9,297.6 140.1,296.6 145.5,296.3 147.8,295.8 150.1,296 153,295.5 155,296.8 157.5,296.8 161.8,297.9 163.5,298.8 166.6,301.1 168.6,303.5 171.7,305.6 170.9,308.4 173.9,310.9 174.4,314.1 176.9,315.9 177.3,319 179.6,322.2 180.6,323.2 182.1,326.2 183.4,328.9 184.1,332.3 185.2,334.9 185.7,338 186.9,341 188.2,342.2 189.4,347.4 190.7,349.7 191.8,351.8 191.7,355.5 77.6,446.3 77.2,443.7 76.9,441.1 77,438.7 76.3,435.5 77.4,433.2 75.4,431 75.5,429.7 77.5,426.4 76.6,422.7 77,420.9 76.6,418.5 77.6,416.3 76.5,412 77.2,410.5 77.5,409.5 78.4,406.1 78,404.5 77.4,401.1 78,398.4 77.1,395.4 77.5,393 78,390.7 78.5,389.3 76.8,386.7 77.4,384.4 78,380.9 78.2,378.1 78,376.2 77.8,373.7 77.2,371.3 77.1,368.9 78.3,366.4 77.7,365.5 78,361.1 77.7,359.4 77.9,356.6 77.6,353.7 78.1,351.6 78.2,347.9 78.8,345.2 78,344 77.5,341.5 78.6,337.9 79.1,336.4 78.7,333.4 79.8,331.5 79.3,328 78.8,325.6 80,323.9 79.9,321.9 79.6,318.3 79.6,317.3 75.8,445.5 77.5,442.9 78.8,441.1 77.8,437.3 77.6,435.1 77.4,433 77.1,430.8 78.6,428.5 77.7,424.1 78.3,423.6 77.5,420.1 78.2,417.3 78.3,414.7 77.3,412.9 77,410.4 78.4,407 78.8,405 78.6,403 78.1,400 77.4,397.4 78.1,396.5 79.4,392 79.3,390.5 78.7,388.2 79.6,385 79,383 78.7,380.5 79.4,377.5 79.1,375.6 80.4,373.1 79.4,370.9 80.2,368.3 81,364.8 80.3,362.6 80,361.8 81.4,356.8 81.2,355.1 81.9,353 81.2,350.6 81.8,348 81.6,345.4 82.3,342.3 82.2,340.4 82.1,338.5 81.8,335.3 82.4,333.4 82.8,330.6 83.6,327 83.7,325.1 83.3,323 84,321.1 84.5,318.2 77,444.4 77.8,443.3 77.7,439.4 77.7,437.4 77.7,434.3 76.1,431.9 78.5,429.9 76.5,427.3 76.8,426.1 78.3,421.5 78.8,419.3 78.7,417.3 77.7,415.2 77.7,413.2 78.8,409.1 77.7,408.3 80,404 80.3,402.4 79.3,399.7 79.4,398.2 79.9,393.6 81.3,392.9 79.5,389.6 79.8,387.4 80.9,385 80.5,381.8 81.6,379.8 82.8,376.9 82.1,374.9 81.3,373.3 82.2,369.3 82.2,368.1 81.8,365.9 83.4,362.3 84.1,361.1 84,357.6 85.1,356 83.6,352.4 84.4,349.8 83.9,348.2 85.3,345.2 86.5,342.3 85.9,340.3 86,337.6 87.1,335.2 87.8,332.2 87.2,329.3 87.1,327.3 88.1,325.7 87.4,324 87.7,320.7 77.1,443.2 77.6,441.4 77.3,438.9 76.8,437.6 77.2,433.7 78.5,430.6 78.9,429.8 78.2,425.9 78.2,422.9 79.6,421.7 78.4,418.6 79.4,417.7 78.4,413.8 78.2,412.1 79.7,410.7 79.7,406.4 79.6,404.8 79.2,402.2 80.7,398.9 80.2,397.4 82.3,394 81.7,392.9 81.2,389.1 81.2,386.7 82.2,384.1 82.1,380.8 82.1,378.7 83.7,376.6 83.1,374.9 84.4,371.5 84,369.9 85.1,366.5 85.4,364.5 86.4,361.5 86.8,359.9 86,357.9 87.7,353.9 88.9,351.5 87.4,349.6 89,347.7 88.8,345.8 89.6,343.4 91.7,340.1 88.5,337.2 89.9,335.1 91,331.7 90.2,329.9 90.8,325.8 91.2,325.1 90.1,322.8 284.4,450 285.6,448.8 285.3,446.2 284.6,445.4 285.4,442.6 283.9,440.5 284.1,439.9 285.4,437 285.2,437.1 286.1,433 285.4,431.3 284.5,430.3 287,429.3 285.7,426.4 285.9,425.4 285,421.9 287,421.4 287,419.6 287,417.3 286.5,416.7 286.9,413.8 287,411.8 285.7,410.7 287.5,409.1 286.1,407.4 287.4,404.8 285.7,403.9 287.9,401.8 286.5,398.8 288.4,398.4 288.3,396 288.5,394 288.4,392 289,390.5 289.8,389.5 289.2,388.4 289.5,385.8 291.3,384.6 289.9,382.7 292.6,381.3 291.2,378.3 293.1,376.8 294.8,375 295.6,374.2 295,371.8 296.7,371.1 298.9,369.7 300.3,367.8 299.5,367.6 303.3,366.9 304.1,366.8 307.7,366.5 307.9,366.1 311.3,366.7 312.2,367.8 314.3,366.9 315.9,368.6 317.2,369.5 317.9,370.1 319.2,371.8 320.4,372.9 321.2,374 322.7,375.5 324,376.9 324.7,377.3 326.4,379.8 326.3,381.3 327.8,382.9 328.2,385.8 329.5,387.5 329.4,387.8 330.4,390.9 330.6,392.5 330.6,393.4 331.5,396.2 330.6,397.8 331.7,399.6 332,401.5 332.7,403.1 331.5,404.9 332.6,405.5 333.2,407.1 333.5,410.7 332.9,412.1 333.7,413.7 332.8,415.5 333.8,417.3 333.9,419.3 334.2,420.9 335,422.4 335,424.2 334.8,425.5 335.1,428.4 334.8,429.9 335.2,430.6 335.3,433.8 334.9,433.8 335.4,436.3 336.6,438.4 335.6,439.9 335.8,441.7 335.2,443.8 335.4,446.4 335.2,447.4 335.6,448.4 291.5,448.2 291.4,446.8 290.6,447.2 289.4,443.2 291.4,442.3 290.4,440.4 290.2,438.7 291.7,436.6 291,435.7 292.1,432.9 291.2,431.1 290.7,429.4 290.8,426.8 290.1,425.6 291.4,424.9 291.1,422.3 291.9,421.1 291.6,418.8 292.8,416.8 291.5,414.3 292.2,413.3 293.2,411.5 292.7,410.4 293.3,407.3 293.4,406.3 292.6,404.3 292.6,402.5 291.7,401.2 293.4,398.6 293.6,398.7 294.2,395.4 295.3,393.3 294.6,391.7 295,390.7 296,388.2 296.2,386.9 296.7,385.2 297.3,383.2 298.8,381.5 300.1,380.6 300.6,379.1 302.3,378.3 304.3,377.7 305.6,378.7 308.4,377.9 310.2,378.3 311.2,378.8 314.3,380.5 314.5,381 315.3,384 316.2,384.9 317.5,386.2 318.5,387.6 318.5,388.7 320.4,391 319.4,393.3 319.6,394.2 319.8,396 320.5,398.1 321,399.2 321.2,401.2 321.4,403.6 322.3,404.9 321.4,406.9 321.6,408.5 322.6,409.9 322.2,411.6 324.1,413.6 322.9,416.1 323.4,418 322.6,418.5 325.4,420.9 323.4,422.8 324.3,423.9 324,426.3 324.3,428.2 323.7,429.4 322.8,432.3 323.4,433.3 325.3,435.1 324.8,437 325,438.9 324.4,441.5 324.6,441.7 324.6,444.6 324.2,446.6 325.4,449.1 324.6,450.1 295.1,448.6 296.1,447.3 296.1,445.2 295.8,443.2 296.4,441.9 296.6,440.4 297,437 296.1,436.1 296.1,435 296.9,432.6 296.6,431.6 296.4,428.8 297.2,427.5 297.6,425.6 297.3,423.3 296.4,421.8 295.5,420.3 297.6,418.3 297,417.1 297.2,415.2 298.6,413.3 297.9,411.3 297.6,409.4 297.6,408.1 296.8,405.5 298.2,403.4 298,401.7 298.5,400.8 299.3,398.8 298.5,396.9 299.7,395.8 298.7,393.5 299.5,392 301.8,390.4 303.4,389.3 304.3,389.2 307.2,389 308.2,388.9 309.8,390.8 309.5,392.5 310,394.3 311.7,396.6 312.2,398.7 311.2,399.9 312.8,402.8 311.3,402.4 312.5,404.8 311.8,407 312.1,407.3 312.6,410.5 313.1,412.8 312.9,413.9 312.5,414.9 312.7,418.2 313.4,420.6 313,420.2 313.6,423.6 312.5,423.9 313.4,427 312.7,428.2 313,429.5 312.7,432.1 313.3,433.4 312.1,436.6 313.1,437.3 313.1,439.4 312.9,441 313.7,443.3 313.3,444.2 313.8,447.6 313.1,448.4 313.6,450.2 383.4,450.1 383.2,448.6 382.7,446.7 382.1,445 382.6,443.5 383.5,442.2 383.4,441 381.8,439.1 383.2,437.2 382.5,435.9 384,434.6 383.4,432.8 384,431.9 384.3,429.3 383.7,427.7 383.8,425.7 384.2,424 383.4,423 383.6,421.1 382.8,420.1 384.1,418 384.5,416.5 383.9,416 384.2,413.8 385.6,411.3 384.8,409.6 385.5,408.3 384.5,407.6 385.8,404.8 386.2,403.8 387.2,403.1 385.6,400.4 385.7,399 386.5,397.8 386.8,395 386.7,395.1 388.2,392.6 387.9,391.1 388.5,388.7 389.6,387.8 389.8,385.2 390.5,386 389.9,384.7 392.4,382.1 392.2,382 394.4,380.5 395.3,378.6 397.2,377.6 398.7,376.4 399.1,375.9 401.9,375.2 402,376.1 404.4,376.9 406.9,376 407.8,374.6 408.5,375.8 410.4,375.7 411.5,376.5 414.1,377.9 414.6,378.4 416.2,379.2 417.1,379.7 418.7,382.4 419.6,383.3 420.7,385.4 421.6,384.7 421.8,387.2 423.9,388.5 424.6,389.5 424.1,390.4 424.6,392 425.5,393.8 426.8,394.1 427.9,397.1 427.3,398.3 429,399.5 429.6,401.3 430.2,402.8 429.9,404.6 430.9,406 430.6,406.9 431,408.6 431.7,410.6 431.9,412 432.4,414.5 433.4,414.8 433.3,416.5 433.3,418.1 433.3,419 432.5,421.5 434.9,422.5 434.8,424.3 435,425.7 435,427.6 434,429.4 435.6,429.4 436.3,432.4 436.3,434.2 436.2,435 436.4,436.9 438.2,439.8 436.9,440.1 437.6,442.2 437.2,442.9 439,445.7 437.2,445.6 437.8,448.4 438.8,449.6 385,449.6 386.3,447.8 385.7,446.6 386,444 386.1,442.3 386.7,441.7 385.6,440 386.9,437 386.2,437.6 385.4,435 385.6,433.4 385.1,430.9 386.2,430.3 386.9,428.9 387.4,427.5 387.2,424.9 386.8,425.7 388.3,422.8 387.5,421.3 387,420.2 387.1,417.4 388.8,414.7 387.9,413.3 387.5,412.7 387.9,411.2 387.8,409.5 387.8,407.7 387.9,406.8 388.3,405.2 389.1,403.1 390.4,401.7 389,400.4 388.9,398.8 390.9,396.3 391.7,395.4 393.5,393.8 394.1,393.5 393.3,390.7 395.2,389.7 395.4,388.3 395.6,387 396.8,385.1 398.4,386 400.8,383.9 401.2,383.4 403.4,382.5 403.8,381.5 406.3,383.1 406.9,380.4 409.3,381.6 410.5,382.6 412,381.5 412.3,382.8 414.2,383.7 415.4,384.3 416.5,385.4 418.2,387.1 420.3,387.8 420,390.4 421.7,390.9 422.7,392.7 423.7,393.6 424.3,394.1 424.2,396 425.3,397.5 426.1,399 426.3,399.5 427.6,402.3 427.1,403.8 428.4,405 427.6,405.8 428.8,409 429.1,409.3 429.4,410.8 430.6,411.4 429.1,414.6 431.2,415.4 432.1,417.9 430.6,418.8 432.9,420 432.3,422.6 432.7,422.9 432.7,424.4 433.7,425.7 434.3,427.3 434,429 434.1,432.1 435.2,433.8 434.7,434.7 435.2,436.6 435.1,438.4 435.7,440 436.1,441.3 435.6,442.3 435.5,443.9 436.3,446.2 435.9,449.2 436.8,449.6 389.6,447.4 388.8,448.2 387.6,446.2 388.5,443.8 389.2,441.4 389.3,440.5 388.8,439.7 391.4,437.9 389.7,436.1 389,434.7 390.4,433 390.1,431.2 391.2,428.7 390.1,428.5 390,425.9 389.3,424.8 390.2,422.6 389.6,422.1 391,419.8 390.2,418.1 392.3,417.3 391,416 392.7,414.5 390.7,412.2 391.6,410.5 391.4,408.9 391.9,407.8 393.1,405.2 392.6,404.2 394.6,403.3 394.7,399.6 395.1,399.6 395.9,397.9 396.6,396.8 399.3,396.3 398.4,394.5 399.4,393.3 400.2,392 402.2,391.3 403,390.5 404.1,388.1 404.3,387.5 406.9,387.7 409.2,387.2 409.6,388.1 412.4,387.5 413.5,388.9 415,388.6 414.9,390.2 417.8,390.5 418.3,390.8 419.6,392.7 421.2,393.3 422.2,395.4 422.8,396.2 423,399 423.5,398.8 423.9,401.5 423.9,401.8 425.6,403.5 426.4,404.9 425.5,406.6 428.1,408 427.7,410.2 427.7,412.2 428.8,413.4 428.2,413.6 427.9,416.1 429.8,418.2 431.2,419.2 430.5,421.1 431.9,421.9 431.7,423.9 431.5,426.1 431.5,426.5 432.6,428.7 432.4,430.2 433.1,431.6 433.5,433.7 434.2,435.8 434.1,436.5 433.9,437.8 435.8,439.6 434.7,442.2 433.8,442.4 434.6,443.9 434.2,445.8 436,448.1 435.4,449.3 324.8,402.5 328.3,399.7 330.2,399 331.9,397.2 334.1,396.4 337.4,396.8 339.7,395.9 341.7,397.1 343.1,396.1 347.2,395.1 349.1,394.8 351.1,394 354.4,393.9 357.5,396 357,394.4 362.1,395.8 364.5,396.2 367.4,396.8 370.6,396.6 372.4,396 374.1,396.8 377.6,400 379.4,398.1 381.4,399.8" fill="none" stroke="none" marker-start="url(#mb)" marker-mid="url(#mb)" marker-end="url(#mb)"/>
<path d="M301,384.5" fill="none" stroke="none" marker-start="url(#mg)" marker-mid="url(#mg)" marker-end="url(#mg)"/>
<path d="M77.0,453.5 77.0,447.5 77.1,445.0 77.1,442.6 77.2,440.1 77.2,437.6 77.3,435.1 77.4,432.7 77.5,430.2 77.6,427.7 77.7,425.2 77.8,422.8 77.9,420.3 78.0,417.8 78.1,415.3 78.2,412.9 78.3,410.4 78.5,407.9 78.7,405.4 78.8,403.0 79.0,400.5 79.2,398.0 79.5,395.6 79.7,393.1 79.9,390.6 80.2,388.2 80.4,385.7 80.7,383.2 81.0,380.8 81.4,378.3 81.7,375.9 82.0,373.4 82.4,371.0 82.8,368.5 83.2,366.1 83.6,363.6 84.1,361.2 84.6,358.8 85.1,356.4 85.6,353.9 86.1,351.5 86.6,349.1 87.1,346.7 87.6,344.2 88.1,341.8 88.7,339.4 89.2,337.0 89.6,334.5 89.9,332.1 90.0,329.6 89.8,327.1 89.4,324.7 88.9,322.3 88.2,319.9 87.4,317.5 86.3,315.3 85.6,313.0 87.2,311.2 89.4,310.2 91.8,309.5 94.3,309.3 96.8,309.2 99.2,309.1 101.7,308.8 104.2,308.5 106.6,308.1 109.1,307.7 111.5,307.3 113.9,306.8 116.4,306.3 118.8,305.8 121.2,305.3 123.6,304.7 126.0,304.3 128.5,303.9 131.0,303.6 133.4,303.3 135.9,303.0 138.3,302.7 140.8,302.5 143.3,302.3 145.7,302.1 148.2,302.0 150.7,302.0 153.2,302.1 155.6,302.2 158.1,302.4 160.6,302.6 163.0,302.8 165.5,303.0 168.0,303.2 170.5,303.4 172.9,303.5 175.4,303.7 177.9,304.0 180.3,304.3 182.8,304.6 185.2,305.0 187.6,305.5 189.8,306.7 191.1,308.7 192.0,311.0 192.7,313.4 193.3,315.8 193.9,318.2 194.4,320.6 195.1,323.0 195.8,325.4 196.7,327.7 197.6,330.0 198.5,332.3 199.4,334.6 200.4,336.9 201.3,339.2 202.3,341.5 203.2,343.8 204.2,346.1 205.1,348.4 206.1,350.6 207.1,352.9 208.1,355.2 209.2,357.4 210.2,359.7 211.2,361.9 212.1,364.2 213.0,366.6 213.7,368.9 214.3,371.3 215.0,373.7 215.6,376.1 216.1,378.5 216.6,381.0 216.9,383.4 217.0,385.9 216.9,388.4 216.7,390.8 216.3,393.3 215.9,395.7 215.5,398.2 215.2,400.6 214.9,403.1 214.6,405.5 214.3,408.0 214.0,410.5 213.7,412.9 213.4,415.4 213.1,417.8 212.9,420.3 212.6,422.8 212.5,425.3 212.3,427.7 212.2,430.2 212.1,432.7 211.9,435.1 211.8,437.6 211.7,440.1 211.6,442.6 211.6,445.0 211.5,447.5 211.5,453.5 152.5,453.5 152.4,447.9 152.3,445.7 152.2,443.6 152.0,441.5 151.9,439.3 151.7,437.2 151.4,435.1 151.2,432.9 151.0,430.8 150.7,428.7 150.4,426.6 150.1,424.4 149.8,422.3 149.5,420.2 149.2,418.1 148.9,416.0 148.5,413.9 148.1,411.8 147.7,409.7 147.2,407.6 146.7,405.5 146.2,403.4 145.6,401.3 145.1,399.3 144.5,397.2 143.9,395.2 143.2,393.1 142.6,391.1 142.0,389.0 141.3,387.0 140.6,385.0 139.9,382.9 139.2,380.9 138.5,378.9 137.7,376.9 136.9,374.9 136.1,373.0 135.2,371.0 134.4,369.0 133.5,367.1 132.6,365.1 131.7,363.2 130.8,361.2 129.9,359.3 129.0,357.4 128.1,355.4 127.1,353.5 126.2,351.6 125.2,349.7 124.1,347.8 123.1,346.0 121.9,344.2 120.8,342.4 119.6,340.6 118.4,338.8 117.3,337.0 116.0,335.2 114.7,333.6 113.1,332.2 111.1,331.5 109.2,332.4 107.6,333.9 106.2,335.5 104.8,337.1 103.5,338.8 102.4,340.6 101.3,342.5 100.3,344.4 99.4,346.3 98.4,348.2 97.4,350.1 96.5,352.0 95.6,354.0 94.7,355.9 93.8,357.9 92.9,359.8 92.1,361.8 91.3,363.8 90.6,365.8 89.9,367.8 89.2,369.9 88.6,371.9 88.0,374.0 87.4,376.0 86.9,378.1 86.3,380.2 85.8,382.2 85.3,384.3 84.8,386.4 84.4,388.5 83.9,390.6 83.4,392.7 83.0,394.8 82.6,396.9 82.1,399.0 81.7,401.1 81.2,403.2 80.8,405.3 80.4,407.4 80.0,409.5 79.7,411.6 79.4,413.7 79.1,415.8 78.9,417.9 78.7,420.1 78.5,422.2 78.3,424.3 78.2,426.5 78.0,428.6 77.9,430.8 77.8,432.9 77.7,435.0 77.6,437.2 77.5,439.3 77.4,441.4 77.3,443.6 77.3,445.7 77.2,447.9 77.2,453.5Z" fill="#800080" stroke="#800080" stroke-width="1" stroke-linejoin="round"/>
<path d="M219.0,453.5 219.0,406.0 252.0,392.5 256.0,384.0 262.0,390.0 268.0,400.0 277.0,411.0 285.0,424.0 289.0,438.0 290.0,453.5Z" fill="#800080" stroke="#800080" stroke-width="3" stroke-linejoin="round"/>
<path d="M303.0,453.5 305.0,428.0 309.0,414.0 314.0,406.0 320.0,403.0 327.0,407.0 333.0,420.0 337.0,453.5Z" fill="#800080" stroke="#800080" stroke-width="3" stroke-linejoin="round"/>
<path d="M84.6,175.3 89.2,175 93.5,178.3 96.3,181.6 100.3,182.2 103.3,185.4 108.1,188.7 110.9,190 115.3,192.5 118.3,195.6 120.5,198.1 123.3,200.8 125.4,203.9 127.9,207.1 130.8,209.7 132.9,212.6 136.3,215.7 137.1,218.5 139.9,221.4 141.5,224.3 143.7,227.5 145.8,229.1 146.8,231.3 149.8,236.4 151.9,238.5 153.6,241.1 154.6,242.9 155.9,246.1 158.6,250.1 159.5,251.9 161.6,253.7 162,256.2 163.7,258.9 166,261.5 167.5,264.3 168.5,267 169.4,268.9 172,270.7 172.1,273.9 173.9,276.3 176,278.1 176.8,281 178.3,282 179.4,285.1 180.5,287.1 181.5,289 182,290.4 184.3,293 184.7,294.6 185.6,297.1 188.2,299 126.1,209.2 130.9,210.7 133.1,217 134.8,220.7 138.1,223.1 141,227.2 142.7,233 145.9,234.2 149.3,238.3 152,241.7 153.4,245.4 155.4,248.5 157.3,253.2 159,254.6 161.3,258.6 163.8,262 164.3,264.5 167,267 168.9,268.6 170.7,273.2 170.9,275.9 174.8,278.4 175.5,281.2 175.9,283.3 177.6,287.7 180,288.6 181.4,291.6 181.3,294.6 182.2,295.4 185.1,297.6 185.5,300.2 91.2,348.4 91.6,345.6 92.3,345.1 92.4,343.4 93.9,341.3 93.8,339.2 94.1,338.5 95.6,336.9 94.5,335.4 93.8,333.4 94.1,330.6 95.1,329.3 95.1,326.5 94.3,325.3 93.6,322.7 94,322.2 92.4,319.5 91.9,319.4 91.6,316.7 91.2,315.3 90.2,314.2 91.8,314.3 92.7,313.9 95,313.9 96.9,313.4 98.6,314.2 100.2,312.7 102.7,313.9 104,313.1 105.4,312.7 108.3,313 109.6,312 110.3,312.1 113.3,312.2 116,311.4 117.1,310.2 119,311 120.9,310.5 122.1,310.6 123.2,309.8 126,308.6 126.4,308.9 129,308.8 131.1,307.7 132.7,308.6 134.1,307.5 135.4,308 139,306.5 140.1,307.6 141.1,306.7 142.6,306.3 145.1,307 146.9,307.1 148.7,305.9 151.3,307.3 151.8,307.6 154.3,306.7 156.9,305.2 156.7,307.3 159.2,306.5 162.1,307.5 162.2,307 165.3,308.5 165.4,307.8 168.1,306.7 170.1,306.9 171.6,309 174.1,308.6 175.9,308.5 177.9,307.8 178.9,309.2 180.5,308.6 183.4,309.9 184.1,308.8 186.6,309.9 187,311.4 188.2,312.8 190.1,315.3 189.3,316.8 191,318.6 189.2,319.9 190.1,321.2 190.6,323.4 191,324.7 192.1,325.7 192.7,328.4 192.9,328.7 194.4,330.7 193.6,333.8 194.4,334.9 194.1,336.5 196.3,338.8 196.6,340.2 197.8,341.3 197.8,344.6 198.4,345.8 199.6,347.6 199.9,348.7 201.2,349.9 201.9,351.2 202.4,353.1 203.6,354.9 203,356.4 204.6,357.7 206.2,360.1 206.6,361.1 206.6,363.8 206.7,365.1 208.2,366.3 208.8,367.6 209.4,369.2 209.1,372.5 209.9,372.2 211.4,374.7 209.2,376.9 212.2,378.9 212.9,380.4 212.5,381.6 212.4,384.9 212.7,385.9 211.3,387.4 211.6,389.9 211.7,391.4 211.3,394.1 210.9,394.8 212.9,396.6 210.6,398.7 211.4,400.6 209.4,402 209.1,404.8 210.1,405.2 210.2,407.5 208.9,410 209.3,409.7 210,413.5 209.7,414.7 208.3,416.7 209.7,418.4 209.4,419.3 208.9,422.1 207.2,422.4 207.6,425.2 208.2,426.8 207.8,428.6 207.8,430.9 207.9,432.3 207.7,433.8 207.9,435.6 208.3,437.7 207.4,439 207,441.4 207.2,442.7 206.4,444.9 207.2,447 207.8,448.3 156.8,449.8 156.9,447.5 158.5,447 157.4,444.7 157.7,442.4 157.9,441.7 158.6,439.6 158,438.3 157.8,436.5 157.5,435.2 156.4,433.8 157,432.6 157.5,431.2 154.7,428.9 154.9,427.3 156.3,425.2 155,424.5 155.3,423.7 155.4,421.5 156.1,419.3 154.8,417.5 154.7,417.1 155.1,414.9 153.6,412.8 152.9,411.8 154.2,408.7 151.8,409.4 151.8,407.2 151.6,405.9 152.5,404 152.1,402.4 151.5,401.9 151.4,398.9 149.9,397.6 149.8,396.3 149.1,395.1 149,393.4 148.5,392 147.4,391 147.8,388.8 147.5,387.7 147.1,385.6 146,383 145.8,382.3 144.9,382.4 143.4,379.5 144.7,378.5 144.2,375.7 142.3,375.3 142.1,374.5 141.8,372.1 141.3,370.4 140.5,368.6 139.8,367.3 139.3,365.3 137.6,364.9 138,362.6 137,361.1 137.7,359.4 136.9,358.4 135.4,357.2 134.2,356.5 134.3,354.3 132.5,354.3 133.2,351.7 131.5,350.4 131,349.5 129.6,347.4 128.9,346.7 129.7,344.5 128.1,344 126.8,341.3 126.7,340.8 125.1,340 124.5,336.7 123.7,336.4 123.8,335.1 121.6,334 121,331.6 120.1,330.9 119.9,331.2 117.2,328.2 115.8,327.9 114.4,328 113.8,327 110.7,326.5 110.7,328.2 107.5,326.4 106.9,328 106,328.2 104.7,329.4 103,331.6 102.3,331 100.9,331.9 100.2,334.8 98.5,336.1 99.6,336.9 96.7,337.5 96.4,338.6 95.1,340.7 95,342.6 93.8,344.8 96,345.6 94.1,348.2 93.1,350.4 92.7,351.3 90.9,355.1 90.5,356.5 89.1,359.1 87.6,361.5 86.6,364 86.2,366.5 85.5,369.9 84.6,373.2 84,376.1 82.9,378.8 82.1,381.6 80.9,385.7 80.3,388.9 79,392.8 78.5,395.8 78,399.7 77.1,402.4 75.6,406.6 75.3,410.9 76,413.5 74.2,418.9 75.1,423.2 74.3,427.6 74.2,432.6 74,435.8 73.2,441.2 72.9,445.7 94.9,313.1 94,315.7 92.9,317.8 96.8,320 100,319.3 103.1,316.1 106,316.8 107.6,316.1 113.1,315.2 114.1,316.9 118.1,314 120.4,314.3 123.2,314.7 125.9,313.2 130.5,311.5 132,313 134.2,311.7 137.2,312 140.7,312.2 145,311.3 146.9,311.3 150.2,310.1 154,311.4 156.8,310.2 159.9,313.3 162.6,310.7 165.2,312 168.3,312.1 171.5,312.1 174.3,312.2 177.2,313.8 179.7,313.9 182.3,313.5 183.8,315.1 183.6,317.6 183.8,319.4 186.5,323 185.7,324.4 188.1,327.2 188.8,330.6 189.4,335.7 191.8,337.3 190.6,339.7 192.9,342.1 195.1,343.5 195.4,347.8 195.7,351.9 196.5,353.3 198.8,354.2 198.8,357.9 201.8,362.2 202.9,364.4 201.8,367.1 204.1,370.7 206.5,374.5 206.8,376.2 206.1,378.5 206.5,382.1 207,384.2 207.3,387 208.1,389.9 207.5,392.5 208,395.7 207.2,401 204,401.4 205.4,406.1 204.8,408.5 204.3,411.6 203.5,414.8 201.8,415.6 205.4,420.2 203,424.9 204.3,427 203,429.6 203.6,430.7 203.5,434.9 203.9,439.1 202.2,440.6 202.8,444.6 202.3,447 221.6,403.4 222.1,400.1 220.6,395.2 222.3,393.2 221.7,390.1 221.2,386.8 221.1,383.7 223.4,382.5 225.5,377.7 226.4,375.5 226.9,371.8 228.7,371.2 225.1,399.4 226.1,398.7 225.4,395 227.1,388.6 227.9,383.2 229,378.4 228.2,368.7 229.5,366.9 231.3,365.1 232,364.2 232.8,363.3 234.3,361.7 234.8,361.1 237,361.8 239.3,360.8 240.5,360.7 242,360.9 243.1,361 244.2,362.8 244.9,362.2 246.5,363.7 249.1,363.8 247.4,365.4 250.6,365.1 251,367.2 250.7,368.8 253.3,369.7 253.2,370.4 254.3,372.4 254.9,374.3 256.5,373.3 258,376 257.4,377.3 257.3,378.7 257.6,379.3 260.7,382 260.3,382 261.7,383.9 261.9,385.7 261.7,387.1 261.7,388.9 262.6,389 263.8,391.2 265.2,392.4 265.6,393.9 265.8,393.8 264.9,394.9 266.9,397.6 267.5,399.2 268.1,399.8 268.1,400.5 270.6,403.6 269.8,404 271.8,406.4 272.1,406.7 274.1,406.7 273.8,409 274.7,411.5 276.6,411.6 276.2,413.3 278,413.7 278.1,414.4 279.1,417.1 280.5,418.3 281.1,418.8 281,421.3 282.2,421.4 282.9,423.8 283.6,424.7 283.4,426.3 285.2,427.5 284.2,429.1 284.2,430.5 285.2,432.4 285.8,433.9 287.5,434.6 285.8,436.5 286.6,437.7 286.5,439.5 287.1,439.3 287.1,442.3 288.2,443.2 287.1,445.8 287.4,446.6 288.2,448.5 288,448.9 221.6,408.7 223,409.3 226.2,406.5 227.7,406.1 229.8,404.1 233.1,404.8 235.1,403.1 237.4,402.8 238.9,401.2 241.5,400.9 244.3,398.7 246,399.6 248.1,397.6 250.6,397.2 252,373.7 252.3,375.6 254.5,377.9 254.1,380.2 255.8,380.3 256.9,382.4 257.4,384.1 258.6,386 258.4,388.5 260,390.7 261.5,392.2 262.1,394.4 262.6,394.8 263.8,395.6 264.3,399.2 265.2,401.6 266.8,402.6 267.1,405 267.9,405.8 269.8,408.2 271.5,409.4 270,411.8 272.9,413 274.1,415.9 273.8,416.2 274.4,418.6 276.6,420.4 276.2,421.4 276.8,422.7 277.3,424.7 278.4,427.9 279.3,429.6 278.9,431.5 279.9,433.3 279.9,435.3 279.8,437.5 279.7,440.1 279.6,441.7 279.9,444.4 281.4,444.9 280.7,446.7 281,449.7 306.3,449.3 305.7,447.7 305.3,446.5 305.5,444.2 305.3,442 305.7,440.6 305.1,437.8 305.5,435.6 306,434.6 307.8,432.8 306.4,430.2 306.7,428.4 308.4,426.5 308.7,424.2 307.7,421.3 309.3,420.7 310.7,418.4 310.8,416.8 312.1,414.8 311.8,413.6 313.6,411.5 313.9,409.6 315,407.1 317.2,406.6 319.3,406.4 320.8,405.9 322.5,405.7 323.9,406.3 326.1,407.2 328,407.7 329,409.9 330,412.2 330.6,413.6 330.9,416 331.7,417.8 331.8,420.3 332.4,422.1 333,423.8 333.4,425.8 333.7,428.1 334.2,429.8 334.9,431.1 334.9,433.5 333.7,435.7 334.5,438.3 334.4,439.4 334.9,440.4 335.1,442.9 335.7,446.3 335,446.6 335.1,449.5 335.4,449.8 334.4,448.3 334.5,447.7 334.7,444.9 335,443 334.9,441.9 334.9,440.3 335.8,439 334.5,437 335.7,435.3 335.4,434 335.7,432.3 335.4,430.4 335.7,428.7 336.5,427.6 335.7,426.4 335.9,424.5 336.2,422.5 336,420.9 337.3,419.4 336.8,417.9 337.7,417.6 337.3,415.3 338.2,413.3 338.9,411.3 339.6,410.5 339.3,409.8 341,408.1 340.6,406 342,405.2 344,402.7 344.5,402.5 346.3,401.6 346.6,400.8 348.2,400.1 350.4,400.3 352.1,399.9 354.8,401.4 355.5,400.4 355.5,401.3 357.7,403.9 359.5,403.7 360.3,406 360.4,407.4 361.1,408 360.8,409.8 362.3,410.7 361.3,413.2 361.1,415.4 362.5,416.5 363.9,416.9 362.6,420.4 363.2,420.8 363.7,423 364.4,424.1 363.7,425.6 364.1,427.9 364.2,429.7 363.8,430.7 365.2,432.6 364.6,433.1 364.1,435.1 364.7,436.7 363.9,438 365,440.4 364.1,441.4 364,442.9 366.7,444.8 364.8,446.1 364.4,447 365,449.4 341.8,412.2 342.2,411.9 342.1,410 343.8,408.5 347.1,407.4 348.4,406.5 350.4,407.1 352.1,406.7 354.2,408.1 354.7,409 356.4,410.8 358.3,412.4 359.1,413.6 358.7,415.6" fill="none" stroke="none" marker-start="url(#mp)" marker-mid="url(#mp)" marker-end="url(#mp)"/>
<path d="M177,453 L180.5,419 L185.5,453Z" fill="#ff0000"/><path d="M179.5,453 L181.5,432 L183.5,453Z" fill="#ffffff"/><path d="M227.5,453 L230.5,431 L233.5,453Z" fill="#0000ff"/><path d="M185.5,453 L187,425 L189,453Z" fill="#0000ff"/>
</g>
<text x="76.7" y="482.6" font-size="28" text-anchor="middle">0</text>
<text x="194.4" y="482.6" font-size="28" text-anchor="middle">100</text>
<text x="312.1" y="482.6" font-size="28" text-anchor="middle">200</text>
<text x="429.8" y="482.6" font-size="28" text-anchor="middle">300</text>
<text x="547.5" y="482.6" font-size="28" text-anchor="middle">400</text>
<text x="665.2" y="482.6" font-size="28" text-anchor="middle">500</text>
<text x="66.3" y="460.1" font-size="28" text-anchor="end">0.0</text>
<text x="66.3" y="350.0" font-size="28" text-anchor="end">2.0</text>
<text x="66.3" y="239.8" font-size="28" text-anchor="end">4.0</text>
<text x="66.3" y="129.6" font-size="28" text-anchor="end">6.0</text>
<text x="66.3" y="19.5" font-size="28" text-anchor="end">8.0</text>
<text x="370.9" y="512.3" font-size="28" text-anchor="middle">ω (cm<tspan font-size="17.5" dy="-11.5">-1</tspan><tspan dy="11.5">)</tspan></text>
<text transform="translate(20.3,239.5) rotate(-90)" font-size="28" text-anchor="middle">V<tspan font-size="17.5" dy="10.5" dx="3">g</tspan><tspan dy="-10.5" dx="3"> (km/s)</tspan></text>
<use href="#sk" x="538.6" y="46.9"/>
<text x="571" y="54.9" font-size="24">MoS<tspan font-size="15" dy="8.3" dx="1.3">2</tspan></text>
<use href="#sg" x="538.6" y="83.2"/>
<text x="571" y="91.2" font-size="24">MoSe<tspan font-size="15" dy="8.3" dx="1.3">2</tspan></text>
<use href="#sr" x="538.6" y="119.5"/>
<text x="571" y="127.5" font-size="24">MoTe<tspan font-size="15" dy="8.3" dx="1.3">2</tspan></text>
<use href="#so" x="538.6" y="155.8"/>
<text x="571" y="163.8" font-size="24">WS<tspan font-size="15" dy="8.3" dx="1.3">2</tspan></text>
<use href="#sb" x="538.6" y="192.1"/>
<text x="571" y="200.1" font-size="24">WSe<tspan font-size="15" dy="8.3" dx="1.3">2</tspan></text>
<use href="#sp" x="538.6" y="228.4"/>
<text x="571" y="236.4" font-size="24">WTe<tspan font-size="15" dy="8.3" dx="1.3">2</tspan></text>
</svg></body></html>
